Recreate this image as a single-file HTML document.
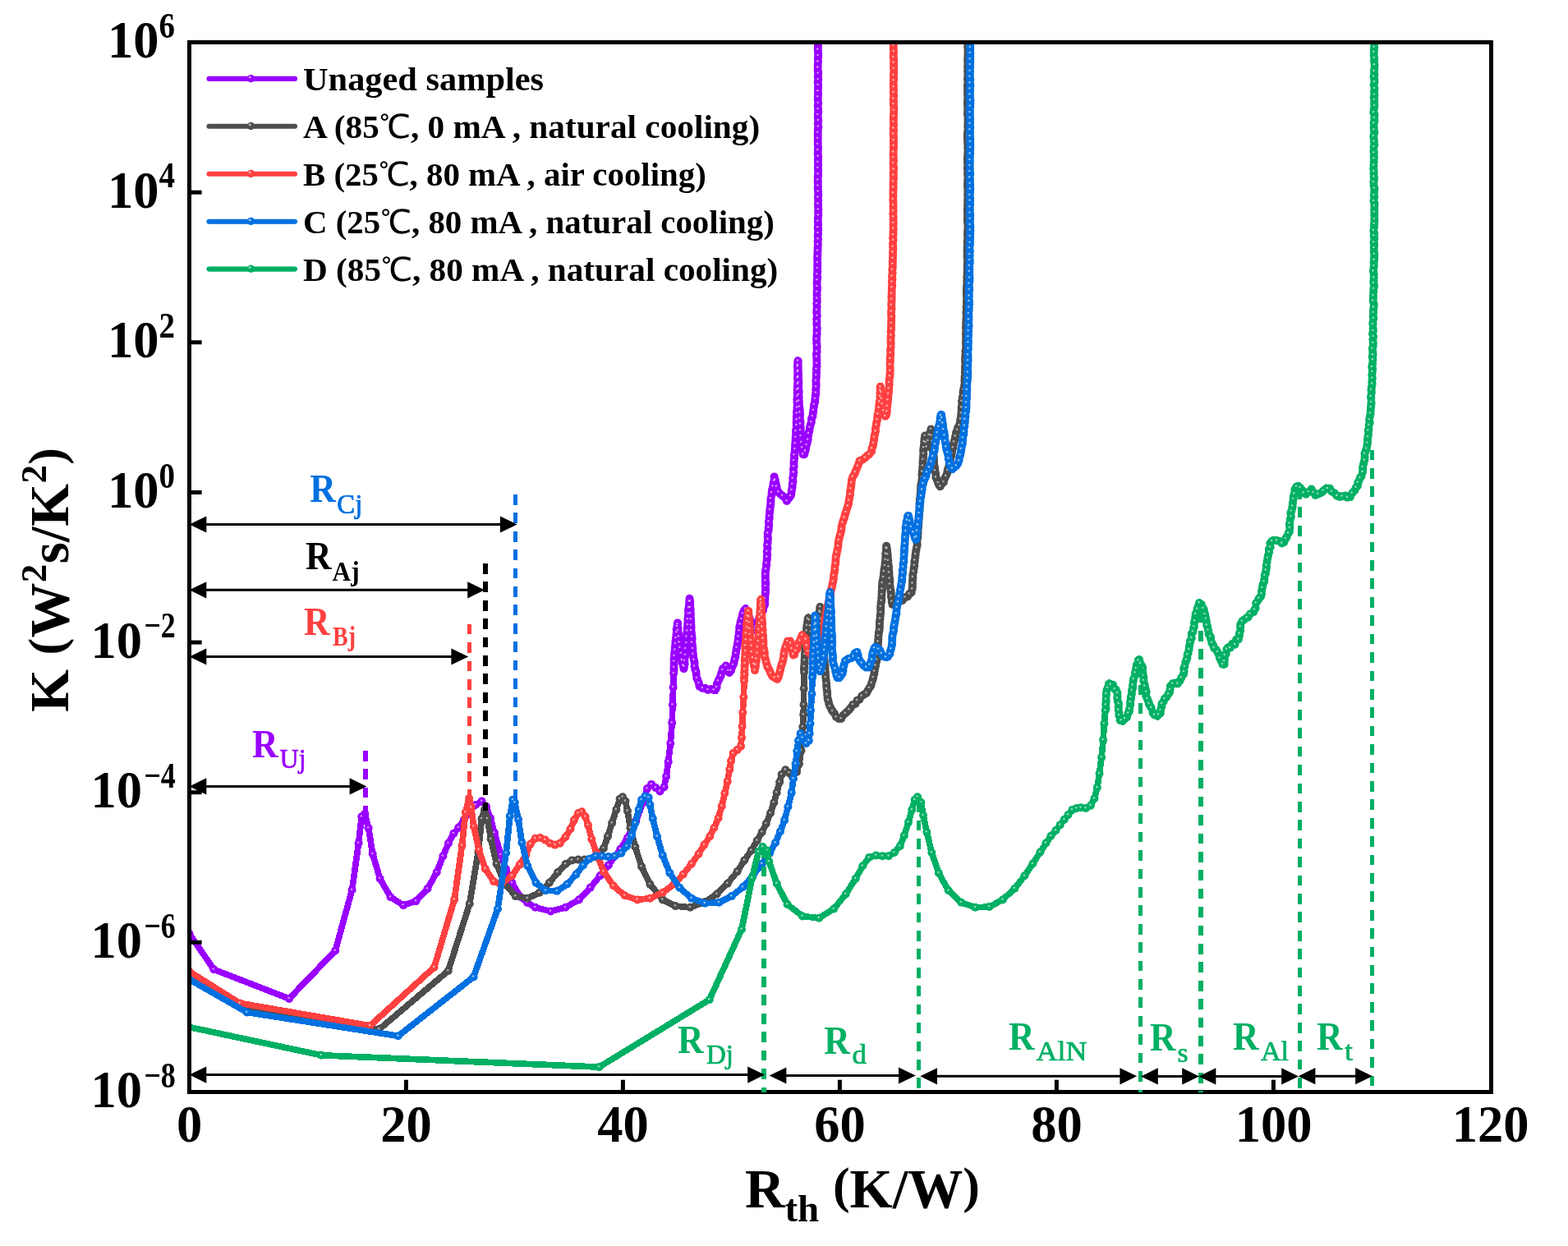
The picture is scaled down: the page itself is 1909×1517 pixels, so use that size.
<!DOCTYPE html>
<html><head><meta charset="utf-8"><title>K vs Rth</title>
<style>html,body{margin:0;padding:0;background:#fff}svg{display:block}</style></head>
<body>
<svg width="1909" height="1517" viewBox="0 0 1909 1517" font-family='"Liberation Serif","Noto Serif CJK SC",serif' font-weight="bold">
<rect width="1909" height="1517" fill="#fff"/>
<defs>
<marker id="mU" markerUnits="userSpaceOnUse" markerWidth="12" markerHeight="12" refX="6" refY="6" orient="0"><circle cx="6" cy="6" r="5.0" fill="#9900ff"/></marker>
<marker id="mA" markerUnits="userSpaceOnUse" markerWidth="12" markerHeight="12" refX="6" refY="6" orient="0"><circle cx="6" cy="6" r="5.0" fill="#4d4d4d"/></marker>
<marker id="mB" markerUnits="userSpaceOnUse" markerWidth="12" markerHeight="12" refX="6" refY="6" orient="0"><circle cx="6" cy="6" r="5.0" fill="#ff4040"/></marker>
<marker id="mC" markerUnits="userSpaceOnUse" markerWidth="12" markerHeight="12" refX="6" refY="6" orient="0"><circle cx="6" cy="6" r="5.0" fill="#0070e0"/></marker>
<marker id="mD" markerUnits="userSpaceOnUse" markerWidth="12" markerHeight="12" refX="6" refY="6" orient="0"><circle cx="6" cy="6" r="5.0" fill="#00b064"/></marker>
<marker id="hl" markerUnits="userSpaceOnUse" markerWidth="6" markerHeight="6" refX="3.5" refY="3.8" orient="0"><circle cx="3" cy="3" r="1.3" fill="#fff" fill-opacity="0.55"/></marker>
<clipPath id="plot"><rect x="230.6" y="51.5" width="1585.05" height="1278.2"/></clipPath>
</defs>
<g clip-path="url(#plot)" fill="none" stroke-linejoin="round" stroke-linecap="round" shape-rendering="crispEdges">
<polyline points="230.4,1136.6 260.3,1180.3 352.0,1215.9 408.2,1157.5 428.6,1083.5 436.6,1026.5 440.3,994.3 444.3,990.8 448.6,1008.0 453.7,1039.7 462.6,1069.7 475.5,1092.2 491.1,1102.1 506.5,1097.1 520.5,1082.0 531.7,1062.0 539.4,1042.3 545.9,1026.8 552.3,1014.8 558.3,1007.6 565.0,998.0 572.0,988.0 579.0,980.0 586.5,975.4 592.0,982.0 597.0,996.0 602.0,1014.0 609.7,1040.6 616.0,1058.0 623.4,1074.8 633.7,1092.0 642.0,1099.0 651.7,1104.8 670.5,1109.5 688.5,1104.8 704.9,1095.4 718.6,1080.8 730.6,1066.3 740.8,1053.4 755.4,1033.7 764.0,1020.0 774.3,999.4 782.8,977.1 788.0,960.0 793.1,954.9 798.3,959.1 803.4,963.4 808.6,958.3 811.1,945.4 813.7,927.4 816.3,905.1 818.2,880.0 818.9,858.0 819.6,836.9 820.2,819.8 820.5,805.0 822.0,785.0 824.8,757.8 827.5,785.5 830.0,803.0 832.7,814.5 835.4,785.5 838.0,745.9 839.6,728.8 841.3,759.1 843.3,792.1 845.9,811.9 848.6,825.1 851.9,835.6 857.8,838.2 864.4,839.6 871.0,841.5 873.6,831.7 877.6,822.4 880.2,813.2 884.2,810.6 888.1,819.8 892.1,811.9 894.7,801.3 897.4,788.1 899.3,775.0 900.7,761.8 902.6,753.8 905.3,743.3 907.9,740.0 911.0,748.0 915.0,760.0 918.0,768.0 921.0,760.0 926.0,750.0 931.0,735.4 932.3,716.9 931.6,703.7 932.3,693.2 933.6,682.6 934.9,651.4 936.9,625.1 938.9,605.3 940.9,592.1 942.9,581.5 946.2,596.0 952.7,604.0 958.0,609.2 963.3,602.6 965.3,585.5 966.6,565.7 967.3,553.8 968.6,532.7 969.9,513.0 970.6,493.2 971.3,438.2 973.0,490.0 975.0,530.0 977.0,552.0 979.1,553.8 981.5,545.0 985.5,522.0 989.5,505.0 992.0,490.0 993.5,472.0 994.3,445.0 994.4,411.9 994.7,362.4 995.2,313.0 996.0,280.0 996.0,51.5" stroke="#9900ff" stroke-width="7.7"/>
<polyline points="230.4,1136.6 260.3,1180.3 352.0,1215.9 408.2,1157.5 428.6,1083.5 436.6,1026.5 440.3,994.3 444.3,990.8 448.6,1008.0 453.7,1039.7 462.6,1069.7 475.5,1092.2 491.1,1102.1 506.5,1097.1 520.5,1082.0 531.7,1062.0 539.4,1042.3 545.9,1026.8 552.3,1014.8 558.3,1007.6 565.0,998.0 572.0,988.0 579.0,980.0 586.5,975.4 592.0,982.0 597.0,996.0 602.0,1014.0 609.7,1040.6 616.0,1058.0 623.4,1074.8 633.7,1092.0 642.0,1099.0 651.7,1104.8 670.5,1109.5 688.5,1104.8 704.9,1095.4 718.6,1080.8 730.6,1066.3 740.8,1053.4 755.4,1033.7 764.0,1020.0 774.3,999.4 782.8,977.1 788.0,960.0 793.1,954.9 798.3,959.1 803.4,963.4 808.6,958.3 811.1,945.4 813.7,927.4 816.3,905.1 818.2,880.0 818.9,858.0 819.6,836.9 820.2,819.8 820.5,815.8 820.5,812.6 820.6,808.6 820.7,805.3 820.6,802.2 821.0,798.7 821.2,794.7 821.7,791.4 821.9,787.5 822.4,783.8 822.5,780.6 823.0,776.8 823.5,772.7 823.8,770.0 823.7,766.4 824.4,762.9 825.0,758.4 824.9,760.0 825.5,764.5 825.5,767.5 825.9,771.5 826.4,775.2 826.9,778.5 826.9,782.2 827.7,785.9 827.8,788.6 828.4,792.8 829.2,795.6 829.4,800.1 830.2,803.7 830.7,806.8 831.7,810.3 832.5,814.3 832.9,811.5 833.6,808.3 833.4,804.6 833.7,800.7 834.4,797.5 834.7,793.4 834.6,789.8 835.3,786.8 835.8,782.8 836.0,779.1 835.8,775.4 836.0,771.7 836.8,768.3 836.7,765.1 837.3,760.9 837.4,758.1 837.4,754.0 837.9,750.5 838.2,747.3 838.0,743.0 838.6,739.9 839.0,736.1 839.3,732.5 839.5,728.8 840.1,731.9 840.2,735.3 840.3,739.5 840.7,742.6 840.8,746.9 840.7,749.7 841.2,754.0 841.3,757.0 841.4,761.3 841.5,764.2 841.5,767.8 842.0,771.4 842.4,775.6 842.6,778.4 842.4,782.4 843.0,786.0 843.4,789.7 843.4,792.9 843.9,796.6 844.2,800.2 844.9,803.5 845.6,807.0 845.6,811.2 846.3,814.7 847.4,817.8 847.7,821.0 848.3,825.5 849.4,828.0 850.9,831.9 851.6,835.7 855.3,837.9 858.5,837.7 861.9,839.9 865.7,839.0 869.1,840.0 871.1,839.5 872.6,836.7 872.9,832.6 874.5,829.1 875.9,826.3 877.5,822.9 878.2,819.9 879.6,815.9 880.3,813.9 883.8,810.5 885.0,812.8 886.7,816.6 887.9,819.0 890.0,816.5 891.1,812.6 892.6,809.5 893.5,807.1 894.4,802.9 895.3,799.7 895.9,795.6 896.4,791.9 897.0,788.5 897.7,785.2 898.3,781.7 899.0,778.3 899.0,775.1 899.7,771.0 900.1,768.1 900.2,763.7 901.2,760.2 901.7,757.1 902.8,753.8 903.9,749.5 904.3,747.0 905.8,743.5 907.5,741.4 908.9,743.7 910.2,746.3 911.6,750.2 912.7,753.2 913.6,756.5 914.9,759.8 916.5,763.6 917.9,765.8 919.0,766.0 920.1,763.1 921.8,759.4 923.3,755.3 924.4,752.3 926.4,749.9 927.5,746.0 928.9,743.2 929.8,739.0 931.2,735.9 931.0,732.5 931.3,728.7 931.6,724.7 932.0,721.3 932.1,718.1 931.9,713.8 932.3,710.2 931.9,707.2 931.8,703.1 931.8,699.5 931.9,696.1 932.5,693.0 933.1,688.6 933.1,685.9 933.8,681.4 933.8,678.2 934.2,675.2 933.8,671.6 934.5,667.4 934.1,663.7 934.6,660.8 934.9,656.7 934.7,653.6 934.7,649.2 935.6,645.5 935.8,642.3 936.2,639.0 935.9,635.2 936.6,631.3 936.6,628.5 937.1,623.9 937.4,620.7 937.7,617.6 938.3,613.6 938.4,610.2 938.5,607.0 939.5,602.7 939.6,599.9 940.1,596.3 941.1,592.1 941.6,588.8 942.4,585.6 942.6,580.4 943.7,584.4 944.6,588.8 945.4,592.4 946.1,596.1 947.8,599.2 950.0,601.5 952.6,603.6 955.4,605.7 957.9,610.0 960.3,606.7 962.6,603.8 963.4,600.9 963.9,596.7 964.6,593.1 964.7,589.6 965.4,586.2 965.2,582.6 965.8,579.1 966.3,575.2 966.0,571.6 966.6,568.0 966.5,564.5 966.6,560.9 967.2,557.4 967.0,554.1 967.6,550.6 967.9,546.8 968.1,543.5 968.2,540.0 968.6,536.0 968.7,532.6 969.2,528.4 969.0,525.1 969.5,522.2 969.8,517.7 969.6,514.7 969.9,511.2 969.8,507.2 970.2,503.4 970.2,500.2 970.5,496.3 970.9,493.3 970.5,489.4 970.4,486.1 970.8,482.6 970.8,478.4 970.6,474.5 970.9,471.7 971.1,467.9 971.3,463.9 971.1,460.2 971.2,456.6 971.3,453.0 971.3,449.4 971.0,446.4 971.2,442.7 971.5,439.4 971.6,440.8 971.6,444.5 971.8,447.8 971.7,451.6 972.1,455.9 971.8,458.8 972.3,462.8 972.3,466.1 972.2,469.8 972.2,473.3 972.7,476.9 972.4,480.6 972.7,484.3 972.7,488.3 972.8,491.0 973.3,495.3 973.7,498.7 973.8,502.2 974.0,505.5 973.8,509.5 974.4,513.4 974.4,516.2 974.7,520.5 974.5,524.0 975.1,527.4 974.9,530.8 975.5,534.9 975.6,538.5 975.8,541.4 976.6,545.0 977.0,549.4 977.6,553.2 979.2,553.3 980.4,549.2 981.1,545.9 982.0,541.8 982.9,538.3 983.6,535.3 983.9,530.9 984.4,527.9 985.3,524.6 985.9,520.6 986.7,517.2 987.8,514.1 988.0,509.9 989.3,506.9 989.8,503.4 990.3,499.5 990.8,495.7 991.2,492.6 992.3,488.9 992.4,485.5 992.9,481.5 993.3,478.4 993.3,474.2 993.6,471.1 993.6,467.5 993.4,463.9 993.8,460.1 993.8,456.9 994.0,453.2 994.0,449.6 994.4,446.2 994.5,442.6 994.4,438.4 994.3,434.7 994.0,431.3 994.6,428.3 994.5,423.8 994.6,420.7 994.2,417.3 994.1,413.0 994.3,409.4 994.6,406.3 994.5,402.5 994.8,399.4 994.3,395.1 994.5,391.7 994.3,388.6 994.8,384.5 994.4,381.1 994.4,377.7 994.7,374.1 994.4,369.8 994.8,366.8 994.6,363.4 994.6,359.2 994.6,355.6 995.1,351.9 994.8,348.9 994.6,345.1 994.9,341.1 995.3,337.6 994.8,334.1 995.3,330.2 995.2,326.8 995.3,323.6 995.3,319.9 995.2,316.1 995.2,312.6 995.4,309.4 995.5,305.4 995.6,301.9 995.8,297.9 995.6,294.3 996.0,291.0 995.7,287.1 996.0,283.9 996.2,279.9 995.7,277.1 996.1,273.4 995.8,269.3 995.8,265.8 996.3,262.1 996.1,258.3 996.3,255.3 996.1,251.7 996.0,248.2 996.2,244.1 995.9,240.4 996.3,237.5 996.1,233.4 995.7,229.9 995.9,226.4 995.8,222.3 995.7,219.4 995.8,215.3 996.1,212.2 996.1,207.9 995.8,204.6 996.1,201.1 995.9,197.6 995.9,194.2 996.1,190.4 995.7,187.0 995.8,182.9 996.0,179.7 995.7,175.5 995.7,172.6 995.7,168.5 995.7,164.9 995.7,161.6 995.8,157.8 996.3,154.3 995.8,150.6 996.3,146.7 995.8,143.8 995.8,139.8 996.3,136.2 996.0,132.9 995.7,129.1 996.2,125.5 995.7,121.6 995.8,118.1 996.1,114.5 995.9,111.0 996.0,107.1 996.1,103.6 995.7,100.3 996.2,96.9 995.8,93.3 996.2,89.4 995.8,86.3 995.7,82.2 995.7,79.0 996.0,75.2 995.9,71.3 996.2,67.8 996.1,64.4 995.7,60.4 995.9,56.7 995.9,53.5" stroke="none" marker-start="url(#mU)" marker-mid="url(#mU)" marker-end="url(#mU)"/>
<polyline points="230.4,1136.6 260.3,1180.3 352.0,1215.9 408.2,1157.5 428.6,1083.5 436.6,1026.5 440.3,994.3 444.3,990.8 448.6,1008.0 453.7,1039.7 462.6,1069.7 475.5,1092.2 491.1,1102.1 506.5,1097.1 520.5,1082.0 531.7,1062.0 539.4,1042.3 545.9,1026.8 552.3,1014.8 558.3,1007.6 565.0,998.0 572.0,988.0 579.0,980.0 586.5,975.4 592.0,982.0 597.0,996.0 602.0,1014.0 609.7,1040.6 616.0,1058.0 623.4,1074.8 633.7,1092.0 642.0,1099.0 651.7,1104.8 670.5,1109.5 688.5,1104.8 704.9,1095.4 718.6,1080.8 730.6,1066.3 740.8,1053.4 755.4,1033.7 764.0,1020.0 774.3,999.4 782.8,977.1 788.0,960.0 793.1,954.9 798.3,959.1 803.4,963.4 808.6,958.3 811.1,945.4 813.7,927.4 816.3,905.1 818.2,880.0 818.9,858.0 819.6,836.9 820.2,819.8 820.5,812.6 820.7,805.3 821.0,798.7 821.7,791.4 822.4,783.8 823.0,776.8 823.8,770.0 824.4,762.9 824.9,760.0 825.5,767.5 826.4,775.2 826.9,782.2 827.8,788.6 829.2,795.6 830.2,803.7 831.7,810.3 832.9,811.5 833.4,804.6 834.4,797.5 834.6,789.8 835.8,782.8 835.8,775.4 836.8,768.3 837.3,760.9 837.4,754.0 838.2,747.3 838.6,739.9 839.3,732.5 840.1,731.9 840.3,739.5 840.8,746.9 841.2,754.0 841.4,761.3 841.5,767.8 842.4,775.6 842.4,782.4 843.4,789.7 843.9,796.6 844.9,803.5 845.6,811.2 847.4,817.8 848.3,825.5 850.9,831.9 855.3,837.9 861.9,839.9 869.1,840.0 872.6,836.7 874.5,829.1 877.5,822.9 879.6,815.9 883.8,810.5 886.7,816.6 890.0,816.5 892.6,809.5 894.4,802.9 895.9,795.6 897.0,788.5 898.3,781.7 899.0,775.1 900.1,768.1 901.2,760.2 902.8,753.8 904.3,747.0 907.5,741.4 910.2,746.3 912.7,753.2 914.9,759.8 917.9,765.8 920.1,763.1 923.3,755.3 926.4,749.9 928.9,743.2 931.2,735.9 931.3,728.7 932.0,721.3 931.9,713.8 931.9,707.2 931.8,699.5 932.5,693.0 933.1,685.9 933.8,678.2 933.8,671.6 934.1,663.7 934.9,656.7 934.7,649.2 935.8,642.3 935.9,635.2 936.6,628.5 937.4,620.7 938.3,613.6 938.5,607.0 939.6,599.9 941.1,592.1 942.4,585.6 943.7,584.4 945.4,592.4 947.8,599.2 952.6,603.6 957.9,610.0 962.6,603.8 963.9,596.7 964.7,589.6 965.2,582.6 966.3,575.2 966.6,568.0 966.6,560.9 967.0,554.1 967.9,546.8 968.2,540.0 968.7,532.6 969.0,525.1 969.8,517.7 969.9,511.2 970.2,503.4 970.5,496.3 970.5,489.4 970.8,482.6 970.6,474.5 971.1,467.9 971.1,460.2 971.3,453.0 971.0,446.4 971.5,439.4 971.6,444.5 971.7,451.6 971.8,458.8 972.3,466.1 972.2,473.3 972.4,480.6 972.7,488.3 973.3,495.3 973.8,502.2 973.8,509.5 974.4,516.2 974.5,524.0 974.9,530.8 975.6,538.5 976.6,545.0 977.6,553.2 980.4,549.2 982.0,541.8 983.6,535.3 984.4,527.9 985.9,520.6 987.8,514.1 989.3,506.9 990.3,499.5 991.2,492.6 992.4,485.5 993.3,478.4 993.6,471.1 993.4,463.9 993.8,456.9 994.0,449.6 994.5,442.6 994.3,434.7 994.6,428.3 994.6,420.7 994.1,413.0 994.6,406.3 994.8,399.4 994.5,391.7 994.8,384.5 994.4,377.7 994.4,369.8 994.6,363.4 994.6,355.6 994.8,348.9 994.9,341.1 994.8,334.1 995.2,326.8 995.3,319.9 995.2,312.6 995.5,305.4 995.8,297.9 996.0,291.0 996.0,283.9 995.7,277.1 995.8,269.3 996.3,262.1 996.3,255.3 996.0,248.2 995.9,240.4 996.1,233.4 995.9,226.4 995.7,219.4 996.1,212.2 995.8,204.6 995.9,197.6 996.1,190.4 995.8,182.9 995.7,175.5 995.7,168.5 995.7,161.6 996.3,154.3 996.3,146.7 995.8,139.8 996.0,132.9 996.2,125.5 995.8,118.1 995.9,111.0 996.1,103.6 996.2,96.9 996.2,89.4 995.7,82.2 996.0,75.2 996.2,67.8 995.7,60.4 995.9,53.5" stroke="none" marker-start="url(#hl)" marker-mid="url(#hl)" marker-end="url(#hl)"/>
<polyline points="230.4,1189.0 296.0,1227.0 461.7,1253.1 545.7,1182.0 571.7,1100.5 582.3,1037.1 586.5,996.8 590.0,985.7 593.4,996.8 597.7,1021.7 604.5,1051.7 614.0,1075.0 627.7,1091.1 642.3,1093.7 656.8,1086.8 668.8,1074.8 679.1,1062.0 688.5,1052.0 696.3,1047.4 704.0,1046.6 711.7,1046.6 724.6,1043.1 734.9,1032.8 740.0,1018.3 745.1,1002.0 750.3,985.7 754.6,972.8 758.0,970.3 761.4,975.4 764.0,987.4 767.4,1008.0 773.4,1031.1 781.1,1055.1 791.4,1076.6 806.8,1095.4 822.3,1103.1 840.3,1104.8 858.3,1098.0 872.8,1088.5 885.7,1075.7 897.7,1061.1 906.3,1047.4 914.8,1035.4 921.7,1023.4 927.7,1013.1 932.8,1002.8 938.0,990.0 942.3,977.1 945.7,965.1 949.1,952.3 951.7,942.9 956.3,937.2 960.8,941.1 965.0,946.0 970.0,940.0 973.0,930.0 975.5,913.7 976.0,900.0 977.3,885.0 978.2,870.0 978.5,858.0 978.7,838.2 979.1,818.5 979.8,798.7 981.1,778.9 982.4,761.8 984.4,751.2 987.0,765.0 990.0,790.0 992.0,800.0 995.0,780.0 997.0,750.0 998.3,738.0 1000.0,760.0 1002.5,790.0 1004.8,818.5 1006.2,835.6 1007.5,848.8 1010.1,859.3 1014.1,867.3 1018.0,872.5 1023.3,875.2 1028.6,869.9 1033.8,863.3 1041.8,855.4 1049.7,847.5 1054.9,843.5 1060.2,835.6 1062.9,825.1 1065.5,814.5 1068.1,798.7 1069.5,778.9 1070.8,761.8 1072.1,743.3 1073.4,724.8 1074.7,706.4 1077.4,687.9 1079.3,664.0 1081.0,680.0 1083.0,705.0 1085.0,725.0 1086.6,736.7 1092.0,735.0 1098.0,731.0 1105.0,726.2 1110.3,719.6 1111.6,699.8 1113.6,684.0 1116.3,665.0 1118.0,640.0 1120.0,610.0 1122.5,580.0 1123.5,560.0 1125.9,531.2 1128.0,545.0 1133.2,523.3 1135.5,545.0 1137.5,565.0 1139.5,580.0 1144.4,593.2 1148.0,588.0 1152.3,578.7 1157.0,560.0 1161.5,539.1 1162.9,531.2 1166.0,522.0 1169.5,512.7 1171.4,486.4 1174.6,466.6 1176.0,411.9 1177.0,362.4 1177.7,313.0 1178.1,280.0 1178.3,51.5" stroke="#4d4d4d" stroke-width="7.7"/>
<polyline points="230.4,1189.0 296.0,1227.0 461.7,1253.1 545.7,1182.0 571.7,1100.5 582.3,1037.1 586.5,996.8 590.0,985.7 593.4,996.8 597.7,1021.7 604.5,1051.7 614.0,1075.0 627.7,1091.1 642.3,1093.7 656.8,1086.8 668.8,1074.8 679.1,1062.0 688.5,1052.0 696.3,1047.4 704.0,1046.6 711.7,1046.6 724.6,1043.1 734.9,1032.8 740.0,1018.3 745.1,1002.0 750.3,985.7 754.6,972.8 758.0,970.3 761.4,975.4 764.0,987.4 767.4,1008.0 773.4,1031.1 781.1,1055.1 791.4,1076.6 806.8,1095.4 822.3,1103.1 840.3,1104.8 858.3,1098.0 872.8,1088.5 885.7,1075.7 897.7,1061.1 906.3,1047.4 914.8,1035.4 921.7,1023.4 927.7,1013.1 932.8,1002.8 938.0,990.0 942.3,977.1 945.7,965.1 949.1,952.3 951.7,942.9 956.3,937.2 960.8,941.1 965.0,946.0 970.0,940.0 973.0,930.0 975.5,913.7 976.0,900.0 977.3,885.0 978.2,870.0 978.5,858.0 978.7,838.2 979.1,818.5 978.9,814.9 979.1,811.8 979.5,807.9 979.5,804.1 979.8,800.0 979.9,796.7 980.3,793.7 980.1,789.6 980.5,786.6 980.9,782.1 981.2,779.2 981.1,774.9 981.8,772.1 982.0,768.2 982.1,764.6 982.5,761.6 983.1,757.6 983.6,753.4 984.4,752.9 985.3,755.1 985.7,758.5 986.4,762.1 987.2,765.9 987.7,769.4 988.0,773.8 988.2,776.5 989.1,780.5 989.0,783.8 989.6,787.3 990.0,791.1 990.9,795.3 991.7,798.7 992.3,797.8 992.9,794.3 993.2,791.3 993.9,787.5 994.3,784.5 995.0,780.1 995.0,776.4 995.2,773.2 995.5,769.9 995.6,765.7 996.5,762.4 996.6,759.2 996.6,755.6 996.6,751.2 997.4,748.5 997.8,744.4 998.3,740.5 998.5,739.1 998.6,742.7 999.0,745.9 999.0,749.1 999.8,753.4 999.6,756.2 999.8,760.2 1000.0,764.2 1000.5,767.2 1000.6,770.7 1001.3,774.1 1001.6,777.9 1001.7,781.4 1002.3,785.7 1002.2,788.7 1003.0,792.1 1003.2,796.3 1003.1,799.2 1003.5,802.9 1003.7,806.4 1004.4,810.6 1004.5,813.7 1004.7,817.4 1005.0,820.7 1005.3,824.9 1005.7,828.2 1006.2,832.4 1006.3,835.7 1006.6,838.9 1007.1,842.8 1007.2,845.9 1007.6,850.4 1008.4,852.7 1009.3,856.8 1010.4,860.0 1012.2,863.4 1013.6,865.9 1016.0,868.7 1018.1,873.0 1021.2,874.9 1024.1,874.9 1026.4,871.0 1029.2,868.5 1031.5,866.4 1033.9,864.1 1035.9,861.5 1038.4,857.9 1041.4,856.9 1043.6,852.7 1046.3,851.7 1049.2,847.4 1051.6,845.7 1054.9,843.9 1056.6,840.8 1058.4,837.5 1060.3,835.0 1061.1,831.7 1062.5,827.7 1063.2,824.9 1064.3,820.5 1064.6,817.3 1065.3,813.3 1066.0,810.4 1066.8,806.3 1067.6,803.3 1068.2,800.0 1068.3,796.5 1068.5,792.6 1068.8,788.5 1068.9,785.4 1069.1,781.2 1069.3,778.5 1069.5,774.3 1069.9,770.4 1070.6,767.0 1070.9,763.6 1070.9,760.1 1071.0,756.7 1071.5,753.3 1071.7,749.8 1072.2,745.9 1072.3,741.8 1072.2,738.5 1072.5,734.8 1073.2,731.5 1073.3,728.2 1073.5,724.1 1073.6,720.5 1074.0,717.0 1073.9,713.9 1074.2,709.9 1074.9,706.2 1075.5,702.8 1076.0,699.0 1076.2,695.9 1076.7,692.3 1077.4,688.8 1077.7,685.3 1078.1,681.5 1078.4,677.8 1078.3,674.3 1078.9,670.7 1079.1,667.2 1079.2,664.8 1079.8,668.1 1080.2,671.8 1080.6,675.1 1080.9,678.9 1081.3,682.5 1081.4,686.6 1082.0,690.0 1082.1,693.6 1082.5,697.2 1082.5,700.4 1083.1,704.4 1083.4,708.0 1083.3,711.3 1083.7,714.8 1084.4,718.8 1084.8,721.6 1084.9,725.9 1085.6,729.1 1085.8,732.5 1086.5,736.0 1089.4,736.2 1092.9,734.4 1096.0,731.4 1098.7,730.9 1102.0,727.3 1104.9,726.4 1107.1,723.1 1109.6,721.4 1110.6,717.0 1110.8,714.3 1111.0,710.4 1111.0,706.2 1111.4,702.7 1111.3,699.8 1112.2,695.9 1112.6,691.9 1113.3,688.6 1113.4,684.7 1113.7,682.2 1114.3,678.0 1114.6,674.9 1115.2,670.9 1115.9,667.1 1116.7,663.4 1116.4,660.3 1116.7,656.7 1117.4,653.4 1117.6,649.6 1117.6,645.7 1118.0,642.1 1118.1,638.5 1118.5,635.0 1118.6,631.4 1119.0,627.5 1119.0,623.9 1119.5,621.2 1119.8,616.9 1119.5,613.3 1119.8,609.9 1120.0,606.8 1120.6,602.4 1120.9,598.6 1121.0,595.4 1121.2,591.8 1121.7,588.8 1122.4,584.8 1122.7,581.2 1122.4,577.5 1122.7,574.4 1123.2,570.5 1123.4,567.3 1123.4,562.9 1123.8,559.5 1124.1,556.3 1124.3,552.4 1124.1,548.4 1124.5,545.1 1125.1,541.5 1125.2,537.7 1125.6,534.6 1126.1,530.5 1126.3,534.5 1127.1,538.8 1127.3,542.4 1128.1,544.3 1128.7,541.0 1129.9,536.7 1130.4,534.2 1131.2,529.8 1132.2,527.0 1133.5,522.5 1133.7,526.8 1133.9,530.4 1134.6,534.0 1134.8,537.6 1135.4,541.4 1135.7,545.3 1135.5,547.8 1136.2,551.9 1136.6,555.3 1137.0,558.9 1137.0,562.4 1137.4,566.1 1138.0,569.4 1138.4,573.0 1139.2,576.8 1139.4,581.2 1140.7,583.9 1142.2,587.9 1143.4,590.8 1144.8,592.2 1146.9,588.7 1148.9,586.9 1150.1,582.8 1151.6,579.6 1153.1,576.4 1153.6,572.7 1154.8,569.2 1155.7,565.6 1156.4,562.4 1157.0,559.1 1158.1,555.1 1158.7,552.1 1159.2,548.9 1160.3,545.1 1160.8,541.3 1161.6,538.2 1162.5,534.9 1163.2,531.2 1164.0,526.8 1165.6,523.5 1166.3,520.5 1167.9,517.8 1168.9,513.9 1169.4,510.2 1170.1,506.4 1170.4,503.2 1170.6,499.2 1170.7,496.2 1171.2,492.5 1171.0,488.5 1171.8,484.8 1172.3,482.2 1172.5,477.8 1173.1,474.4 1174.0,470.7 1174.4,467.9 1174.4,463.5 1174.5,459.8 1174.9,456.7 1174.9,453.0 1175.0,449.3 1175.1,446.2 1175.3,442.0 1175.1,438.7 1175.2,435.3 1175.5,431.9 1175.4,427.8 1176.0,424.7 1176.1,420.5 1176.0,417.3 1176.1,413.8 1176.2,410.3 1176.0,406.6 1176.3,402.9 1176.0,399.1 1176.2,395.3 1176.2,392.1 1176.4,388.2 1176.7,385.1 1176.4,380.7 1176.9,377.8 1176.6,374.2 1177.0,370.1 1177.0,367.1 1177.2,363.5 1176.9,359.7 1176.8,355.8 1176.9,352.6 1177.0,349.1 1177.4,345.3 1177.3,341.7 1177.3,337.6 1177.6,333.9 1177.6,331.0 1177.7,326.7 1177.8,323.6 1177.9,319.9 1178.0,316.7 1177.6,312.4 1177.6,309.5 1177.5,305.8 1177.6,301.6 1177.9,297.9 1177.7,294.6 1178.2,291.3 1178.0,287.3 1178.1,284.3 1178.1,280.7 1178.4,276.6 1178.3,272.8 1177.9,269.2 1177.8,265.9 1178.2,262.1 1177.9,259.1 1177.8,255.1 1178.2,251.3 1178.2,248.4 1178.1,244.0 1178.4,240.6 1178.3,237.2 1178.3,233.9 1178.4,230.2 1178.0,226.4 1178.1,223.0 1178.2,219.1 1178.5,215.2 1178.1,211.9 1178.3,208.0 1177.9,204.7 1178.3,201.4 1177.9,197.6 1177.9,193.6 1178.0,190.7 1178.4,186.7 1178.5,183.4 1178.2,179.7 1178.3,175.6 1178.1,172.2 1177.9,168.4 1177.9,164.7 1178.0,161.5 1178.5,158.1 1178.3,154.2 1178.4,150.5 1178.5,147.0 1178.5,143.9 1178.0,139.5 1178.1,136.7 1178.2,132.9 1178.2,129.0 1177.9,125.9 1178.1,121.7 1178.4,118.5 1178.0,114.9 1178.0,110.8 1178.3,107.8 1177.9,104.3 1178.5,100.2 1178.0,96.7 1178.2,93.1 1178.4,89.2 1178.2,86.2 1178.1,81.9 1178.5,78.5 1178.2,74.7 1178.3,71.3 1178.4,67.9 1178.5,64.0 1178.5,60.9 1178.1,57.0 1178.4,53.1" stroke="none" marker-start="url(#mA)" marker-mid="url(#mA)" marker-end="url(#mA)"/>
<polyline points="230.4,1189.0 296.0,1227.0 461.7,1253.1 545.7,1182.0 571.7,1100.5 582.3,1037.1 586.5,996.8 590.0,985.7 593.4,996.8 597.7,1021.7 604.5,1051.7 614.0,1075.0 627.7,1091.1 642.3,1093.7 656.8,1086.8 668.8,1074.8 679.1,1062.0 688.5,1052.0 696.3,1047.4 704.0,1046.6 711.7,1046.6 724.6,1043.1 734.9,1032.8 740.0,1018.3 745.1,1002.0 750.3,985.7 754.6,972.8 758.0,970.3 761.4,975.4 764.0,987.4 767.4,1008.0 773.4,1031.1 781.1,1055.1 791.4,1076.6 806.8,1095.4 822.3,1103.1 840.3,1104.8 858.3,1098.0 872.8,1088.5 885.7,1075.7 897.7,1061.1 906.3,1047.4 914.8,1035.4 921.7,1023.4 927.7,1013.1 932.8,1002.8 938.0,990.0 942.3,977.1 945.7,965.1 949.1,952.3 951.7,942.9 956.3,937.2 960.8,941.1 965.0,946.0 970.0,940.0 973.0,930.0 975.5,913.7 976.0,900.0 977.3,885.0 978.2,870.0 978.5,858.0 978.7,838.2 979.1,818.5 979.1,811.8 979.5,804.1 979.9,796.7 980.1,789.6 980.9,782.1 981.1,774.9 982.0,768.2 982.5,761.6 983.6,753.4 985.3,755.1 986.4,762.1 987.7,769.4 988.2,776.5 989.0,783.8 990.0,791.1 991.7,798.7 992.9,794.3 993.9,787.5 995.0,780.1 995.2,773.2 995.6,765.7 996.6,759.2 996.6,751.2 997.8,744.4 998.5,739.1 999.0,745.9 999.8,753.4 999.8,760.2 1000.5,767.2 1001.3,774.1 1001.7,781.4 1002.2,788.7 1003.2,796.3 1003.5,802.9 1004.4,810.6 1004.7,817.4 1005.3,824.9 1006.2,832.4 1006.6,838.9 1007.2,845.9 1008.4,852.7 1010.4,860.0 1013.6,865.9 1018.1,873.0 1024.1,874.9 1029.2,868.5 1033.9,864.1 1038.4,857.9 1043.6,852.7 1049.2,847.4 1054.9,843.9 1058.4,837.5 1061.1,831.7 1063.2,824.9 1064.6,817.3 1066.0,810.4 1067.6,803.3 1068.3,796.5 1068.8,788.5 1069.1,781.2 1069.5,774.3 1070.6,767.0 1070.9,760.1 1071.5,753.3 1072.2,745.9 1072.2,738.5 1073.2,731.5 1073.5,724.1 1074.0,717.0 1074.2,709.9 1075.5,702.8 1076.2,695.9 1077.4,688.8 1078.1,681.5 1078.3,674.3 1079.1,667.2 1079.8,668.1 1080.6,675.1 1081.3,682.5 1082.0,690.0 1082.5,697.2 1083.1,704.4 1083.3,711.3 1084.4,718.8 1084.9,725.9 1085.8,732.5 1089.4,736.2 1096.0,731.4 1102.0,727.3 1107.1,723.1 1110.6,717.0 1111.0,710.4 1111.4,702.7 1112.2,695.9 1113.3,688.6 1113.7,682.2 1114.6,674.9 1115.9,667.1 1116.4,660.3 1117.4,653.4 1117.6,645.7 1118.1,638.5 1118.6,631.4 1119.0,623.9 1119.8,616.9 1119.8,609.9 1120.6,602.4 1121.0,595.4 1121.7,588.8 1122.7,581.2 1122.7,574.4 1123.4,567.3 1123.8,559.5 1124.3,552.4 1124.5,545.1 1125.2,537.7 1126.1,530.5 1127.1,538.8 1128.1,544.3 1129.9,536.7 1131.2,529.8 1133.5,522.5 1133.9,530.4 1134.8,537.6 1135.7,545.3 1136.2,551.9 1137.0,558.9 1137.4,566.1 1138.4,573.0 1139.4,581.2 1142.2,587.9 1144.8,592.2 1148.9,586.9 1151.6,579.6 1153.6,572.7 1155.7,565.6 1157.0,559.1 1158.7,552.1 1160.3,545.1 1161.6,538.2 1163.2,531.2 1165.6,523.5 1167.9,517.8 1169.4,510.2 1170.4,503.2 1170.7,496.2 1171.0,488.5 1172.3,482.2 1173.1,474.4 1174.4,467.9 1174.5,459.8 1174.9,453.0 1175.1,446.2 1175.1,438.7 1175.5,431.9 1176.0,424.7 1176.0,417.3 1176.2,410.3 1176.3,402.9 1176.2,395.3 1176.4,388.2 1176.4,380.7 1176.6,374.2 1177.0,367.1 1176.9,359.7 1176.9,352.6 1177.4,345.3 1177.3,337.6 1177.6,331.0 1177.8,323.6 1178.0,316.7 1177.6,309.5 1177.6,301.6 1177.7,294.6 1178.0,287.3 1178.1,280.7 1178.3,272.8 1177.8,265.9 1177.9,259.1 1178.2,251.3 1178.1,244.0 1178.3,237.2 1178.4,230.2 1178.1,223.0 1178.5,215.2 1178.3,208.0 1178.3,201.4 1177.9,193.6 1178.4,186.7 1178.2,179.7 1178.1,172.2 1177.9,164.7 1178.5,158.1 1178.4,150.5 1178.5,143.9 1178.1,136.7 1178.2,129.0 1178.1,121.7 1178.0,114.9 1178.3,107.8 1178.5,100.2 1178.2,93.1 1178.2,86.2 1178.5,78.5 1178.3,71.3 1178.5,64.0 1178.1,57.0" stroke="none" marker-start="url(#hl)" marker-mid="url(#hl)" marker-end="url(#hl)"/>
<polyline points="230.4,1182.8 292.0,1221.4 450.5,1248.8 528.6,1177.7 553.2,1095.1 562.5,1029.4 566.8,989.1 571.1,972.0 573.7,983.1 576.8,1006.3 583.1,1034.6 590.8,1057.7 601.1,1073.1 609.7,1076.5 623.4,1066.3 632.8,1052.6 640.5,1040.6 645.7,1027.7 651.7,1020.8 657.7,1020.0 663.7,1022.6 669.7,1026.8 675.7,1028.6 681.7,1026.8 688.5,1019.0 694.5,1009.2 698.9,998.6 704.0,990.0 708.3,988.3 712.6,994.3 716.0,1004.6 720.3,1021.7 726.3,1038.8 734.9,1061.1 746.8,1078.3 760.6,1090.3 776.0,1095.4 791.4,1093.7 806.8,1086.8 820.6,1076.5 831.7,1064.6 842.0,1051.7 850.6,1039.7 857.4,1028.6 864.3,1018.3 869.4,1008.0 874.6,996.0 878.8,981.4 882.3,966.0 885.7,951.4 888.3,936.9 890.0,926.6 892.6,917.1 897.7,912.9 902.0,908.6 903.0,898.0 903.6,884.6 904.3,867.4 905.3,848.8 906.0,829.0 906.6,811.9 907.3,792.1 908.6,772.3 909.9,753.8 911.2,743.3 913.2,772.3 915.8,798.7 919.1,815.8 922.4,792.1 924.4,759.1 926.4,728.8 927.7,753.8 929.0,778.9 931.0,798.7 934.3,811.9 938.2,819.8 943.5,825.1 946.8,826.4 950.1,815.8 952.8,805.3 955.4,792.1 958.7,781.5 962.0,780.2 964.6,792.1 965.9,798.7 969.9,790.8 972.5,781.5 976.5,773.6 980.5,776.3 983.1,789.5 985.1,796.0 992.0,800.0 998.0,795.0 1002.0,785.0 1003.5,765.0 1005.0,750.0 1009.0,732.0 1012.7,716.9 1015.4,699.8 1017.4,682.0 1021.3,658.0 1025.3,638.2 1028.6,627.7 1033.2,611.9 1035.2,598.7 1037.1,582.9 1042.4,572.3 1046.4,561.8 1054.3,556.5 1060.9,549.9 1063.5,539.3 1065.5,526.2 1067.5,513.0 1069.5,499.8 1071.4,486.6 1071.9,469.5 1074.0,490.0 1076.5,505.0 1079.0,507.0 1081.8,480.0 1083.4,453.1 1084.2,428.3 1085.0,395.4 1085.9,345.9 1087.3,296.5 1087.9,200.0 1088.0,51.5" stroke="#ff4040" stroke-width="7.7"/>
<polyline points="230.4,1182.8 292.0,1221.4 450.5,1248.8 528.6,1177.7 553.2,1095.1 562.5,1029.4 566.8,989.1 571.1,972.0 573.7,983.1 576.8,1006.3 583.1,1034.6 590.8,1057.7 601.1,1073.1 609.7,1076.5 623.4,1066.3 632.8,1052.6 640.5,1040.6 645.7,1027.7 651.7,1020.8 657.7,1020.0 663.7,1022.6 669.7,1026.8 675.7,1028.6 681.7,1026.8 688.5,1019.0 694.5,1009.2 698.9,998.6 704.0,990.0 708.3,988.3 712.6,994.3 716.0,1004.6 720.3,1021.7 726.3,1038.8 734.9,1061.1 746.8,1078.3 760.6,1090.3 776.0,1095.4 791.4,1093.7 806.8,1086.8 820.6,1076.5 831.7,1064.6 842.0,1051.7 850.6,1039.7 857.4,1028.6 864.3,1018.3 869.4,1008.0 874.6,996.0 878.8,981.4 882.3,966.0 885.7,951.4 888.3,936.9 890.0,926.6 892.6,917.1 897.7,912.9 902.0,908.6 903.0,898.0 903.6,884.6 904.3,867.4 905.3,848.8 906.0,829.0 905.9,825.1 906.5,821.3 906.2,818.3 906.6,815.1 906.6,810.8 907.0,807.8 906.7,803.8 907.0,800.3 907.4,796.2 907.6,792.9 907.4,789.6 907.4,786.0 907.9,781.9 908.2,779.1 908.4,774.7 908.3,771.1 908.8,768.1 909.4,764.0 909.1,760.3 909.6,756.8 909.8,754.0 910.1,750.0 911.1,745.8 911.2,743.9 911.4,747.0 911.7,751.0 912.1,754.7 912.5,758.1 912.5,762.1 912.6,765.5 913.3,769.2 913.0,772.5 913.3,775.9 914.1,779.7 914.5,783.4 915.0,786.6 915.1,790.0 915.1,793.9 915.4,797.6 916.5,801.0 916.7,805.3 917.9,808.6 918.1,811.3 919.0,816.1 919.7,812.5 919.9,809.6 920.7,805.2 920.8,802.2 921.4,798.5 921.9,795.4 922.1,791.5 922.4,788.0 923.0,784.3 923.3,780.8 923.4,776.6 923.5,773.3 923.9,769.3 923.8,766.6 924.4,762.6 924.6,759.3 924.7,755.4 924.9,751.7 925.3,748.7 925.3,745.1 925.6,741.3 925.9,737.6 926.0,734.1 926.2,730.2 926.3,730.8 926.6,734.3 927.1,738.6 927.0,741.6 927.2,745.6 927.4,748.9 927.5,752.8 927.8,755.8 928.2,759.2 927.9,763.2 928.6,766.9 928.5,770.8 929.0,774.0 929.1,777.5 929.5,781.0 929.4,784.5 929.7,788.6 930.5,792.5 930.8,795.3 930.9,799.0 931.8,802.2 932.8,806.1 933.7,809.8 934.8,812.4 936.7,815.7 938.2,819.5 940.2,823.1 943.1,825.1 946.3,827.0 947.8,824.2 948.9,819.9 949.9,816.5 950.5,812.9 951.7,809.1 952.6,806.6 953.5,802.8 954.2,799.0 954.4,796.2 955.1,792.3 956.2,788.2 957.3,785.4 958.8,780.8 962.0,780.5 962.6,783.2 963.7,787.4 964.0,789.9 965.1,794.4 965.6,796.9 967.1,797.1 968.7,792.5 970.4,790.3 970.9,786.8 972.1,782.8 973.7,780.2 975.3,776.6 976.6,773.3 979.7,776.5 981.1,778.4 981.6,782.8 982.2,786.2 983.1,789.1 984.1,793.1 985.7,795.4 988.5,798.2 991.4,800.0 994.4,798.3 997.1,795.3 998.7,792.2 1000.4,789.0 1001.5,785.5 1002.5,782.2 1002.4,778.8 1002.4,775.0 1003.1,771.1 1003.5,767.6 1003.7,764.7 1004.0,760.9 1004.0,757.4 1004.4,753.2 1005.2,749.5 1005.9,746.6 1006.3,742.9 1007.2,739.2 1008.2,736.0 1008.9,733.1 1009.6,729.5 1010.9,725.7 1011.2,722.2 1012.0,717.9 1012.8,715.2 1013.4,711.5 1014.2,708.2 1014.8,704.8 1015.0,700.9 1015.9,697.0 1016.4,693.3 1016.4,689.9 1017.2,686.2 1017.4,682.4 1017.6,678.9 1018.3,675.4 1018.8,672.7 1019.7,669.2 1020.4,665.1 1020.6,661.8 1021.1,657.7 1021.9,654.6 1022.8,651.3 1023.8,647.7 1024.4,644.4 1024.6,640.7 1025.9,636.3 1026.8,633.4 1028.0,630.2 1028.7,626.9 1029.9,623.6 1031.1,619.5 1032.2,616.2 1033.1,613.2 1033.6,609.3 1034.3,605.6 1035.0,602.0 1035.1,598.3 1035.8,595.1 1036.2,591.4 1036.6,587.9 1036.9,584.5 1038.3,580.4 1040.0,577.8 1041.3,574.9 1042.7,571.3 1044.3,567.5 1045.7,563.7 1046.7,561.0 1050.0,559.7 1053.2,557.4 1055.6,555.0 1058.2,553.2 1061.1,549.6 1061.5,546.1 1062.8,542.8 1063.4,539.6 1064.1,535.6 1064.4,532.5 1065.0,529.0 1066.0,525.2 1065.9,521.8 1066.8,517.5 1067.2,514.3 1068.0,511.1 1068.3,507.0 1068.8,504.2 1069.6,500.0 1070.2,496.5 1070.3,493.5 1070.8,489.2 1071.6,485.5 1071.5,482.5 1071.5,478.6 1071.8,475.6 1071.5,471.7 1072.0,471.3 1072.1,474.0 1072.8,477.8 1073.4,482.1 1073.3,485.4 1073.6,489.0 1074.2,492.1 1075.3,496.4 1075.7,500.0 1076.2,502.7 1077.7,506.8 1079.2,504.8 1079.8,501.0 1079.7,497.7 1080.2,494.6 1080.7,490.3 1081.0,487.1 1081.3,483.3 1081.6,479.6 1082.0,476.6 1082.2,473.1 1082.7,468.7 1082.5,465.8 1082.7,462.3 1083.4,458.0 1083.5,455.2 1083.7,451.5 1083.7,448.0 1083.5,444.0 1083.9,440.0 1083.7,436.8 1084.0,433.6 1084.3,429.8 1084.0,426.0 1084.6,422.4 1084.6,418.3 1084.5,414.8 1084.5,411.3 1084.8,408.2 1084.6,404.0 1085.0,400.5 1085.0,397.2 1085.1,393.5 1085.2,390.1 1085.3,386.0 1085.1,382.8 1085.0,379.3 1085.5,375.4 1085.2,371.6 1085.4,368.4 1085.6,364.5 1085.5,361.4 1085.6,357.7 1085.7,354.3 1085.9,350.1 1086.2,347.3 1085.9,343.3 1086.4,339.9 1086.0,336.4 1086.6,332.4 1086.3,328.5 1086.8,325.4 1086.8,321.5 1086.7,318.5 1087.0,314.5 1087.1,310.6 1087.0,307.2 1087.4,303.4 1087.2,300.3 1087.0,296.7 1087.6,292.5 1087.1,289.7 1087.5,285.9 1087.5,282.5 1087.7,278.4 1087.5,274.8 1087.7,271.6 1087.6,267.4 1087.7,264.0 1087.3,260.2 1087.7,256.9 1087.5,252.9 1087.6,249.8 1087.5,246.0 1087.3,242.8 1087.5,238.6 1087.4,235.1 1087.5,231.4 1087.7,228.2 1087.6,224.4 1087.6,221.0 1088.0,217.3 1087.8,213.4 1087.7,210.4 1088.0,206.4 1087.9,203.2 1087.6,198.8 1088.0,195.8 1087.8,191.9 1087.6,188.8 1087.7,185.2 1087.9,181.0 1088.0,177.6 1087.8,174.0 1088.0,170.9 1088.0,166.7 1087.7,163.3 1088.1,159.3 1087.7,156.2 1088.0,152.3 1087.9,148.5 1087.8,144.9 1088.0,141.7 1088.2,138.2 1088.3,134.5 1088.3,130.7 1087.8,126.9 1088.0,123.7 1087.7,120.4 1088.3,116.6 1087.8,112.7 1088.0,109.6 1087.9,105.9 1087.7,102.4 1088.0,98.1 1088.1,95.2 1087.9,91.6 1088.3,87.9 1088.2,83.6 1088.1,80.6 1088.1,76.4 1088.3,72.8 1087.7,69.8 1087.8,66.3 1088.1,62.8 1087.7,58.7 1087.9,55.1 1087.9,51.6" stroke="none" marker-start="url(#mB)" marker-mid="url(#mB)" marker-end="url(#mB)"/>
<polyline points="230.4,1182.8 292.0,1221.4 450.5,1248.8 528.6,1177.7 553.2,1095.1 562.5,1029.4 566.8,989.1 571.1,972.0 573.7,983.1 576.8,1006.3 583.1,1034.6 590.8,1057.7 601.1,1073.1 609.7,1076.5 623.4,1066.3 632.8,1052.6 640.5,1040.6 645.7,1027.7 651.7,1020.8 657.7,1020.0 663.7,1022.6 669.7,1026.8 675.7,1028.6 681.7,1026.8 688.5,1019.0 694.5,1009.2 698.9,998.6 704.0,990.0 708.3,988.3 712.6,994.3 716.0,1004.6 720.3,1021.7 726.3,1038.8 734.9,1061.1 746.8,1078.3 760.6,1090.3 776.0,1095.4 791.4,1093.7 806.8,1086.8 820.6,1076.5 831.7,1064.6 842.0,1051.7 850.6,1039.7 857.4,1028.6 864.3,1018.3 869.4,1008.0 874.6,996.0 878.8,981.4 882.3,966.0 885.7,951.4 888.3,936.9 890.0,926.6 892.6,917.1 897.7,912.9 902.0,908.6 903.0,898.0 903.6,884.6 904.3,867.4 905.3,848.8 906.0,829.0 906.5,821.3 906.6,815.1 907.0,807.8 907.0,800.3 907.6,792.9 907.4,786.0 908.2,779.1 908.3,771.1 909.4,764.0 909.6,756.8 910.1,750.0 911.2,743.9 911.7,751.0 912.5,758.1 912.6,765.5 913.0,772.5 914.1,779.7 915.0,786.6 915.1,793.9 916.5,801.0 917.9,808.6 919.0,816.1 919.9,809.6 920.8,802.2 921.9,795.4 922.4,788.0 923.3,780.8 923.5,773.3 923.8,766.6 924.6,759.3 924.9,751.7 925.3,745.1 925.9,737.6 926.2,730.2 926.6,734.3 927.0,741.6 927.4,748.9 927.8,755.8 927.9,763.2 928.5,770.8 929.1,777.5 929.4,784.5 930.5,792.5 930.9,799.0 932.8,806.1 934.8,812.4 938.2,819.5 943.1,825.1 947.8,824.2 949.9,816.5 951.7,809.1 953.5,802.8 954.4,796.2 956.2,788.2 958.8,780.8 962.6,783.2 964.0,789.9 965.6,796.9 968.7,792.5 970.9,786.8 973.7,780.2 976.6,773.3 981.1,778.4 982.2,786.2 984.1,793.1 988.5,798.2 994.4,798.3 998.7,792.2 1001.5,785.5 1002.4,778.8 1003.1,771.1 1003.7,764.7 1004.0,757.4 1005.2,749.5 1006.3,742.9 1008.2,736.0 1009.6,729.5 1011.2,722.2 1012.8,715.2 1014.2,708.2 1015.0,700.9 1016.4,693.3 1017.2,686.2 1017.6,678.9 1018.8,672.7 1020.4,665.1 1021.1,657.7 1022.8,651.3 1024.4,644.4 1025.9,636.3 1028.0,630.2 1029.9,623.6 1032.2,616.2 1033.6,609.3 1035.0,602.0 1035.8,595.1 1036.6,587.9 1038.3,580.4 1041.3,574.9 1044.3,567.5 1046.7,561.0 1053.2,557.4 1058.2,553.2 1061.5,546.1 1063.4,539.6 1064.4,532.5 1066.0,525.2 1066.8,517.5 1068.0,511.1 1068.8,504.2 1070.2,496.5 1070.8,489.2 1071.5,482.5 1071.8,475.6 1072.0,471.3 1072.8,477.8 1073.3,485.4 1074.2,492.1 1075.7,500.0 1077.7,506.8 1079.8,501.0 1080.2,494.6 1081.0,487.1 1081.6,479.6 1082.2,473.1 1082.5,465.8 1083.4,458.0 1083.7,451.5 1083.5,444.0 1083.7,436.8 1084.3,429.8 1084.6,422.4 1084.5,414.8 1084.8,408.2 1085.0,400.5 1085.1,393.5 1085.3,386.0 1085.0,379.3 1085.2,371.6 1085.6,364.5 1085.6,357.7 1085.9,350.1 1085.9,343.3 1086.0,336.4 1086.3,328.5 1086.8,321.5 1087.0,314.5 1087.0,307.2 1087.2,300.3 1087.6,292.5 1087.5,285.9 1087.7,278.4 1087.7,271.6 1087.7,264.0 1087.7,256.9 1087.6,249.8 1087.3,242.8 1087.4,235.1 1087.7,228.2 1087.6,221.0 1087.8,213.4 1088.0,206.4 1087.6,198.8 1087.8,191.9 1087.7,185.2 1088.0,177.6 1088.0,170.9 1087.7,163.3 1087.7,156.2 1087.9,148.5 1088.0,141.7 1088.3,134.5 1087.8,126.9 1087.7,120.4 1087.8,112.7 1087.9,105.9 1088.0,98.1 1087.9,91.6 1088.2,83.6 1088.1,76.4 1087.7,69.8 1088.1,62.8 1087.9,55.1" stroke="none" marker-start="url(#hl)" marker-mid="url(#hl)" marker-end="url(#hl)"/>
<polyline points="230.4,1192.3 300.6,1232.5 484.8,1261.3 576.6,1189.4 606.0,1106.5 616.2,1038.5 620.8,993.9 624.3,973.7 626.8,977.1 631.1,997.7 635.4,1026.0 642.3,1054.3 652.5,1074.8 664.5,1084.3 678.2,1084.8 690.6,1076.5 701.4,1064.6 710.0,1053.4 717.7,1045.7 725.4,1042.3 733.1,1042.3 740.8,1043.1 748.6,1042.3 756.3,1038.8 763.1,1030.3 769.1,1017.4 773.4,1002.0 777.7,985.7 781.1,973.7 785.4,969.4 789.7,971.1 791.4,979.7 794.8,996.8 800.0,1018.3 806.8,1041.4 815.4,1062.8 827.4,1080.8 842.0,1093.7 858.3,1099.7 875.4,1098.8 890.8,1091.1 904.5,1080.0 916.5,1066.3 927.7,1051.7 937.1,1038.8 944.0,1026.0 950.0,1012.3 955.1,998.6 959.4,982.3 963.7,965.1 966.0,948.0 968.6,930.0 970.3,914.6 972.0,901.7 974.6,893.1 977.1,898.3 981.4,905.1 984.8,901.7 985.7,893.1 986.5,881.1 987.0,864.8 988.4,844.8 989.0,825.1 989.7,805.3 991.0,785.5 992.0,762.0 992.6,749.0 995.0,785.5 997.6,811.9 998.6,818.5 1002.9,798.7 1006.8,759.1 1009.5,732.7 1010.5,720.9 1012.1,752.0 1013.0,788.0 1014.1,805.3 1016.7,814.5 1019.3,825.1 1021.3,826.4 1025.9,818.5 1027.9,806.6 1031.9,801.3 1036.5,802.6 1040.4,796.0 1043.1,794.1 1045.7,802.6 1051.0,810.6 1057.6,813.2 1060.9,805.3 1062.2,794.7 1065.5,786.8 1069.5,789.5 1073.4,796.0 1078.7,801.3 1082.6,798.7 1085.3,788.1 1086.6,774.9 1088.6,763.1 1090.6,751.2 1092.5,738.0 1094.5,726.2 1096.5,715.6 1098.5,703.7 1099.1,693.2 1100.4,680.0 1101.8,658.0 1103.1,638.2 1105.6,627.0 1110.0,645.0 1115.0,658.0 1117.6,638.2 1119.8,615.0 1123.0,592.0 1127.7,577.5 1132.1,568.0 1136.5,552.3 1141.8,525.9 1146.0,503.5 1151.0,539.1 1156.3,565.5 1160.2,572.1 1166.8,562.9 1170.8,545.7 1173.4,525.9 1176.0,499.6 1177.4,474.0 1178.2,444.8 1179.0,411.9 1179.8,362.4 1180.6,313.0 1181.0,280.0 1181.1,51.5" stroke="#0070e0" stroke-width="7.7"/>
<polyline points="230.4,1192.3 300.6,1232.5 484.8,1261.3 576.6,1189.4 606.0,1106.5 616.2,1038.5 620.8,993.9 624.3,973.7 626.8,977.1 631.1,997.7 635.4,1026.0 642.3,1054.3 652.5,1074.8 664.5,1084.3 678.2,1084.8 690.6,1076.5 701.4,1064.6 710.0,1053.4 717.7,1045.7 725.4,1042.3 733.1,1042.3 740.8,1043.1 748.6,1042.3 756.3,1038.8 763.1,1030.3 769.1,1017.4 773.4,1002.0 777.7,985.7 781.1,973.7 785.4,969.4 789.7,971.1 791.4,979.7 794.8,996.8 800.0,1018.3 806.8,1041.4 815.4,1062.8 827.4,1080.8 842.0,1093.7 858.3,1099.7 875.4,1098.8 890.8,1091.1 904.5,1080.0 916.5,1066.3 927.7,1051.7 937.1,1038.8 944.0,1026.0 950.0,1012.3 955.1,998.6 959.4,982.3 963.7,965.1 966.0,948.0 968.6,930.0 970.3,914.6 972.0,901.7 974.6,893.1 977.1,898.3 981.4,905.1 984.8,901.7 985.7,893.1 986.5,881.1 987.0,864.8 988.4,844.8 989.0,825.1 989.4,821.9 989.6,817.9 989.5,813.9 989.8,811.0 989.4,807.5 989.7,803.1 989.9,799.8 990.0,796.6 990.5,792.3 990.6,789.5 990.8,785.4 991.4,782.2 991.1,778.0 991.5,775.1 991.8,770.9 991.9,767.6 992.1,763.5 992.1,760.8 992.5,756.4 992.7,753.3 992.3,749.6 992.8,751.7 993.1,756.1 993.2,759.1 993.3,762.5 993.5,766.5 994.0,770.0 994.4,774.0 994.7,777.5 994.7,780.6 994.8,784.2 995.3,787.8 995.7,791.2 996.1,794.8 996.5,798.2 996.6,801.7 997.3,805.7 997.3,809.9 997.7,813.1 998.5,816.6 998.7,817.3 1000.0,812.8 1000.6,810.4 1001.5,806.3 1002.1,802.8 1002.8,799.1 1003.4,795.8 1003.7,791.7 1003.8,788.6 1004.5,785.5 1004.8,781.9 1005.0,777.6 1005.3,774.3 1005.7,770.9 1005.7,767.2 1006.3,763.1 1006.5,760.4 1007.0,756.2 1007.4,753.0 1007.6,749.1 1008.2,745.4 1008.8,742.1 1009.2,738.6 1009.1,734.7 1009.4,731.5 1009.8,727.2 1010.0,723.6 1010.6,721.1 1010.7,725.1 1011.2,728.8 1011.0,731.7 1011.4,736.1 1011.2,739.3 1011.8,742.7 1012.0,746.0 1011.7,750.3 1012.0,753.4 1012.2,756.8 1012.1,760.5 1012.2,764.8 1012.3,767.7 1012.8,771.5 1013.0,775.1 1013.0,778.7 1013.2,782.1 1013.1,785.7 1012.9,789.8 1013.3,793.5 1013.8,797.2 1014.1,800.6 1013.8,804.4 1014.6,807.7 1015.6,810.9 1016.9,814.2 1017.3,817.7 1018.3,821.8 1019.6,825.2 1022.1,824.8 1023.9,822.4 1025.6,820.0 1026.4,816.4 1026.7,812.5 1027.6,809.4 1028.9,804.8 1031.1,803.5 1034.1,802.0 1036.8,800.9 1039.0,799.4 1040.6,795.5 1043.4,793.9 1044.6,797.6 1045.4,801.8 1047.2,805.1 1049.1,807.2 1051.5,810.4 1054.7,812.6 1058.0,812.5 1058.9,809.3 1060.4,805.9 1061.4,803.3 1061.8,799.1 1062.3,795.8 1063.2,792.8 1064.6,789.0 1066.8,788.0 1069.5,790.4 1071.4,791.9 1073.1,795.6 1075.6,799.2 1078.5,800.0 1080.9,799.6 1083.3,796.3 1083.8,793.0 1084.8,790.0 1085.8,785.8 1086.1,783.3 1086.2,778.9 1086.3,775.2 1087.0,771.7 1088.0,768.1 1088.1,764.7 1088.6,761.4 1089.3,758.1 1090.0,754.3 1090.5,750.2 1091.3,747.2 1091.4,744.0 1092.0,739.5 1092.6,736.0 1093.5,733.0 1094.3,729.8 1094.7,726.4 1095.4,722.5 1095.9,718.5 1096.7,715.1 1097.1,711.6 1098.1,707.6 1098.2,704.1 1098.5,700.8 1099.1,697.4 1098.8,694.3 1099.6,690.5 1099.5,687.0 1100.4,683.5 1100.4,679.7 1100.7,675.8 1100.8,671.9 1101.1,668.3 1101.2,665.5 1101.6,662.0 1101.8,657.7 1101.9,654.5 1102.2,650.9 1102.8,646.9 1102.5,643.1 1103.2,640.0 1103.5,636.1 1104.3,633.4 1104.9,629.0 1106.0,627.9 1107.0,631.7 1107.5,634.5 1108.2,638.5 1109.4,641.5 1110.1,645.8 1111.7,648.2 1113.1,652.3 1113.9,654.9 1115.3,657.0 1115.7,653.5 1116.3,649.3 1116.6,646.4 1116.7,642.5 1117.5,639.2 1117.8,635.2 1118.4,632.1 1118.5,628.3 1119.0,624.8 1119.5,621.0 1119.4,617.4 1119.8,614.4 1120.5,610.7 1120.7,606.6 1121.5,603.8 1122.0,599.6 1122.6,596.2 1122.7,592.9 1123.9,588.9 1124.8,585.1 1126.0,582.6 1127.5,579.5 1128.5,575.1 1130.1,572.1 1131.4,569.2 1132.5,565.6 1133.9,562.2 1134.4,559.3 1135.5,555.7 1136.5,551.6 1137.6,548.7 1138.0,545.0 1138.4,541.1 1139.2,538.2 1140.2,533.6 1141.0,531.0 1141.3,526.9 1142.2,524.1 1142.7,519.7 1143.8,516.2 1144.5,512.4 1144.7,509.0 1145.3,505.9 1146.2,505.0 1146.6,508.8 1147.1,511.6 1147.7,515.2 1148.1,518.8 1148.5,523.0 1149.5,526.3 1150.0,530.1 1150.0,533.8 1150.7,537.1 1151.3,540.3 1151.7,544.0 1152.4,547.7 1153.6,551.1 1154.3,554.1 1154.8,558.4 1155.7,561.3 1156.2,565.1 1157.7,568.7 1159.4,570.3 1161.6,569.2 1164.2,567.1 1166.0,564.7 1167.5,561.0 1168.1,557.1 1169.1,554.1 1170.0,549.9 1170.3,546.7 1170.9,543.6 1171.9,539.9 1172.0,536.1 1172.3,533.0 1173.3,528.8 1173.5,525.6 1173.6,521.2 1174.3,518.4 1174.8,514.1 1174.8,510.7 1175.4,507.2 1175.3,503.8 1176.2,500.4 1176.4,496.5 1176.5,493.3 1176.5,490.0 1177.0,485.5 1176.8,482.7 1177.0,478.9 1177.3,474.7 1177.2,471.9 1177.3,467.7 1177.7,464.3 1178.0,460.7 1178.2,457.2 1178.3,453.4 1177.9,449.8 1178.2,445.9 1178.1,443.0 1178.6,439.0 1178.5,435.5 1178.5,432.0 1178.3,428.0 1178.8,424.6 1178.7,420.8 1178.9,417.1 1178.7,414.2 1178.9,410.1 1179.0,406.8 1179.1,402.9 1179.2,399.2 1179.5,396.4 1179.2,392.4 1179.5,389.0 1179.4,385.5 1179.3,381.8 1179.7,377.9 1179.7,374.3 1180.0,370.6 1180.0,366.8 1179.5,363.1 1179.8,360.4 1179.7,356.4 1180.2,352.6 1179.8,349.3 1179.8,345.3 1180.4,342.2 1180.5,338.4 1180.3,334.5 1180.3,330.7 1180.3,327.9 1180.2,323.7 1180.7,320.0 1180.7,316.9 1180.5,312.8 1180.6,309.9 1180.9,305.7 1180.4,302.0 1180.7,298.7 1181.0,295.5 1181.0,291.5 1181.1,287.8 1181.2,284.5 1181.3,280.3 1181.3,276.8 1181.1,273.7 1180.7,270.4 1181.1,266.5 1181.2,262.3 1180.9,259.3 1180.8,255.3 1180.7,252.1 1181.1,248.6 1181.0,244.3 1181.0,241.2 1180.7,237.5 1181.0,234.1 1181.3,230.4 1181.1,227.1 1181.0,223.5 1181.0,219.6 1180.7,216.2 1181.2,211.9 1180.7,208.8 1180.8,205.5 1180.8,201.8 1180.8,197.5 1180.8,194.8 1180.8,191.1 1181.1,187.2 1181.0,183.6 1181.3,179.9 1181.3,176.5 1181.3,172.7 1181.2,168.8 1181.0,165.9 1181.0,161.6 1180.9,158.1 1181.2,155.0 1181.0,150.7 1180.9,147.4 1181.1,143.7 1180.7,140.6 1180.9,136.9 1180.8,133.1 1181.2,129.4 1181.4,125.8 1181.4,122.2 1180.9,118.8 1180.9,115.2 1181.0,111.7 1180.9,108.2 1181.4,104.3 1180.9,101.1 1181.2,96.9 1180.8,93.6 1180.8,89.9 1181.0,86.5 1180.9,82.6 1181.1,78.9 1181.2,75.3 1181.2,72.1 1181.2,68.7 1181.3,64.7 1181.2,61.0 1181.3,57.8 1181.1,53.8" stroke="none" marker-start="url(#mC)" marker-mid="url(#mC)" marker-end="url(#mC)"/>
<polyline points="230.4,1192.3 300.6,1232.5 484.8,1261.3 576.6,1189.4 606.0,1106.5 616.2,1038.5 620.8,993.9 624.3,973.7 626.8,977.1 631.1,997.7 635.4,1026.0 642.3,1054.3 652.5,1074.8 664.5,1084.3 678.2,1084.8 690.6,1076.5 701.4,1064.6 710.0,1053.4 717.7,1045.7 725.4,1042.3 733.1,1042.3 740.8,1043.1 748.6,1042.3 756.3,1038.8 763.1,1030.3 769.1,1017.4 773.4,1002.0 777.7,985.7 781.1,973.7 785.4,969.4 789.7,971.1 791.4,979.7 794.8,996.8 800.0,1018.3 806.8,1041.4 815.4,1062.8 827.4,1080.8 842.0,1093.7 858.3,1099.7 875.4,1098.8 890.8,1091.1 904.5,1080.0 916.5,1066.3 927.7,1051.7 937.1,1038.8 944.0,1026.0 950.0,1012.3 955.1,998.6 959.4,982.3 963.7,965.1 966.0,948.0 968.6,930.0 970.3,914.6 972.0,901.7 974.6,893.1 977.1,898.3 981.4,905.1 984.8,901.7 985.7,893.1 986.5,881.1 987.0,864.8 988.4,844.8 989.0,825.1 989.6,817.9 989.8,811.0 989.7,803.1 990.0,796.6 990.6,789.5 991.4,782.2 991.5,775.1 991.9,767.6 992.1,760.8 992.7,753.3 992.8,751.7 993.2,759.1 993.5,766.5 994.4,774.0 994.7,780.6 995.3,787.8 996.1,794.8 996.6,801.7 997.3,809.9 998.5,816.6 1000.0,812.8 1001.5,806.3 1002.8,799.1 1003.7,791.7 1004.5,785.5 1005.0,777.6 1005.7,770.9 1006.3,763.1 1007.0,756.2 1007.6,749.1 1008.8,742.1 1009.1,734.7 1009.8,727.2 1010.6,721.1 1011.2,728.8 1011.4,736.1 1011.8,742.7 1011.7,750.3 1012.2,756.8 1012.2,764.8 1012.8,771.5 1013.0,778.7 1013.1,785.7 1013.3,793.5 1014.1,800.6 1014.6,807.7 1016.9,814.2 1018.3,821.8 1022.1,824.8 1025.6,820.0 1026.7,812.5 1028.9,804.8 1034.1,802.0 1039.0,799.4 1043.4,793.9 1045.4,801.8 1049.1,807.2 1054.7,812.6 1058.9,809.3 1061.4,803.3 1062.3,795.8 1064.6,789.0 1069.5,790.4 1073.1,795.6 1078.5,800.0 1083.3,796.3 1084.8,790.0 1086.1,783.3 1086.3,775.2 1088.0,768.1 1088.6,761.4 1090.0,754.3 1091.3,747.2 1092.0,739.5 1093.5,733.0 1094.7,726.4 1095.9,718.5 1097.1,711.6 1098.2,704.1 1099.1,697.4 1099.6,690.5 1100.4,683.5 1100.7,675.8 1101.1,668.3 1101.6,662.0 1101.9,654.5 1102.8,646.9 1103.2,640.0 1104.3,633.4 1106.0,627.9 1107.5,634.5 1109.4,641.5 1111.7,648.2 1113.9,654.9 1115.7,653.5 1116.6,646.4 1117.5,639.2 1118.4,632.1 1119.0,624.8 1119.4,617.4 1120.5,610.7 1121.5,603.8 1122.6,596.2 1123.9,588.9 1126.0,582.6 1128.5,575.1 1131.4,569.2 1133.9,562.2 1135.5,555.7 1137.6,548.7 1138.4,541.1 1140.2,533.6 1141.3,526.9 1142.7,519.7 1144.5,512.4 1145.3,505.9 1146.6,508.8 1147.7,515.2 1148.5,523.0 1150.0,530.1 1150.7,537.1 1151.7,544.0 1153.6,551.1 1154.8,558.4 1156.2,565.1 1159.4,570.3 1164.2,567.1 1167.5,561.0 1169.1,554.1 1170.3,546.7 1171.9,539.9 1172.3,533.0 1173.5,525.6 1174.3,518.4 1174.8,510.7 1175.3,503.8 1176.4,496.5 1176.5,490.0 1176.8,482.7 1177.3,474.7 1177.3,467.7 1178.0,460.7 1178.3,453.4 1178.2,445.9 1178.6,439.0 1178.5,432.0 1178.8,424.6 1178.9,417.1 1178.9,410.1 1179.1,402.9 1179.5,396.4 1179.5,389.0 1179.3,381.8 1179.7,374.3 1180.0,366.8 1179.8,360.4 1180.2,352.6 1179.8,345.3 1180.5,338.4 1180.3,330.7 1180.2,323.7 1180.7,316.9 1180.6,309.9 1180.4,302.0 1181.0,295.5 1181.1,287.8 1181.3,280.3 1181.1,273.7 1181.1,266.5 1180.9,259.3 1180.7,252.1 1181.0,244.3 1180.7,237.5 1181.3,230.4 1181.0,223.5 1180.7,216.2 1180.7,208.8 1180.8,201.8 1180.8,194.8 1181.1,187.2 1181.3,179.9 1181.3,172.7 1181.0,165.9 1180.9,158.1 1181.0,150.7 1181.1,143.7 1180.9,136.9 1181.2,129.4 1181.4,122.2 1180.9,115.2 1180.9,108.2 1180.9,101.1 1180.8,93.6 1181.0,86.5 1181.1,78.9 1181.2,72.1 1181.3,64.7 1181.3,57.8" stroke="none" marker-start="url(#hl)" marker-mid="url(#hl)" marker-end="url(#hl)"/>
<polyline points="230.4,1250.5 391.4,1284.8 729.5,1299.1 863.7,1217.1 903.0,1131.4 915.7,1068.8 923.4,1037.1 928.5,1031.1 933.7,1035.4 936.3,1049.1 945.7,1075.7 958.6,1101.0 977.0,1115.5 997.2,1117.7 1015.2,1106.5 1029.8,1088.5 1041.7,1069.7 1050.3,1054.3 1058.0,1044.0 1066.6,1041.4 1074.3,1042.3 1082.0,1042.3 1088.8,1038.0 1095.7,1030.3 1100.8,1017.4 1106.0,1001.1 1110.3,985.7 1113.7,973.7 1117.1,970.3 1121.4,977.1 1124.0,992.6 1128.3,1013.1 1134.3,1038.0 1142.8,1062.8 1154.8,1084.3 1170.3,1098.8 1187.4,1104.8 1204.5,1104.0 1220.8,1095.4 1235.4,1081.7 1247.4,1066.3 1257.4,1051.5 1266.4,1037.5 1273.5,1026.4 1279.5,1017.8 1285.4,1011.0 1290.6,1004.4 1295.8,997.8 1300.5,992.0 1305.5,985.9 1310.8,984.0 1316.0,983.3 1322.0,984.0 1327.9,980.7 1332.5,972.1 1335.8,958.9 1338.5,941.8 1341.1,922.0 1343.1,900.9 1344.4,881.1 1345.7,865.3 1346.8,847.4 1348.6,835.4 1351.1,831.1 1355.4,835.4 1359.7,842.3 1361.4,854.3 1362.3,868.0 1364.0,878.3 1367.4,879.1 1372.6,871.4 1376.0,861.1 1376.8,847.4 1379.4,832.0 1382.8,816.6 1385.4,804.6 1387.1,803.7 1389.7,809.7 1392.3,823.4 1394.0,837.1 1396.6,850.8 1400.8,861.1 1406.0,869.7 1409.4,873.1 1412.8,868.0 1414.6,856.0 1419.7,850.8 1423.1,844.0 1424.8,835.4 1430.8,832.0 1436.8,828.6 1440.3,822.6 1442.0,813.1 1444.6,802.8 1447.1,792.6 1448.8,782.3 1451.4,772.0 1454.0,758.3 1456.5,746.3 1459.1,736.0 1461.3,734.3 1464.3,739.4 1467.7,749.7 1469.4,763.4 1473.7,775.4 1478.0,787.4 1483.1,796.0 1487.4,806.3 1490.0,809.7 1491.7,797.7 1494.3,787.4 1501.1,785.7 1507.1,778.8 1509.7,768.6 1510.5,758.3 1516.5,753.1 1521.7,748.0 1526.8,744.6 1529.4,736.0 1533.7,728.0 1536.3,720.6 1538.0,712.0 1540.0,702.3 1541.7,688.5 1544.3,674.8 1546.8,662.8 1550.3,656.8 1555.4,658.6 1561.4,662.0 1566.6,655.1 1570.0,645.7 1570.8,633.7 1572.6,620.0 1574.3,606.3 1576.8,596.0 1581.1,590.8 1586.3,596.8 1591.4,601.1 1596.6,596.8 1602.6,601.1 1608.6,601.1 1614.6,593.4 1620.6,596.8 1627.4,602.0 1634.3,604.6 1639.4,606.3 1645.4,602.0 1651.4,594.3 1654.8,585.7 1658.3,575.4 1660.0,563.4 1662.6,551.4 1664.3,539.4 1666.0,525.7 1667.5,510.0 1669.0,490.0 1670.5,460.0 1671.4,417.0 1672.4,366.0 1672.8,280.0 1673.0,51.5" stroke="#00b064" stroke-width="7.7"/>
<polyline points="230.4,1250.5 391.4,1284.8 729.5,1299.1 863.7,1217.1 903.0,1131.4 915.7,1068.8 923.4,1037.1 928.5,1031.1 933.7,1035.4 936.3,1049.1 945.7,1075.7 958.6,1101.0 977.0,1115.5 997.2,1117.7 1015.2,1106.5 1029.8,1088.5 1041.7,1069.7 1050.3,1054.3 1058.0,1044.0 1066.6,1041.4 1074.3,1042.3 1082.0,1042.3 1088.8,1038.0 1095.7,1030.3 1100.8,1017.4 1106.0,1001.1 1110.3,985.7 1113.7,973.7 1117.1,970.3 1121.4,977.1 1124.0,992.6 1128.3,1013.1 1134.3,1038.0 1142.8,1062.8 1154.8,1084.3 1170.3,1098.8 1187.4,1104.8 1204.5,1104.0 1220.8,1095.4 1235.4,1081.7 1247.4,1066.3 1257.4,1051.5 1266.4,1037.5 1273.5,1026.4 1279.5,1017.8 1285.4,1011.0 1290.6,1004.4 1295.8,997.8 1300.5,992.0 1305.5,985.9 1310.8,984.0 1316.0,983.3 1322.0,984.0 1327.9,980.7 1332.5,972.1 1335.8,958.9 1338.5,941.8 1341.1,922.0 1343.1,900.9 1344.4,881.1 1345.7,865.3 1346.5,862.5 1346.2,858.1 1346.6,855.0 1346.6,851.5 1346.8,846.6 1346.8,844.7 1347.5,840.6 1348.6,837.5 1349.9,832.7 1352.1,833.4 1355.0,833.7 1357.1,838.9 1358.6,839.5 1360.4,843.9 1360.5,847.7 1360.3,850.0 1360.8,853.8 1362.0,856.7 1361.7,860.5 1361.7,864.2 1362.5,868.6 1362.4,870.9 1363.6,876.7 1365.1,877.0 1367.5,876.9 1369.5,874.9 1372.0,873.1 1373.6,868.3 1374.9,865.8 1375.0,863.2 1376.1,858.1 1376.1,854.9 1376.8,851.1 1376.8,848.9 1377.8,845.0 1378.1,840.6 1379.0,837.6 1379.0,834.2 1379.6,829.7 1380.0,826.7 1381.8,822.7 1382.0,819.1 1383.0,815.2 1383.2,813.8 1383.8,809.9 1385.7,804.0 1387.0,803.1 1388.5,807.7 1390.6,811.3 1391.2,813.8 1391.4,819.1 1391.6,822.5 1392.4,824.8 1392.3,828.5 1393.5,833.0 1393.6,835.4 1394.6,838.5 1395.6,842.5 1395.2,847.5 1396.8,850.7 1398.3,854.2 1398.8,856.9 1400.1,859.2 1401.6,861.7 1403.6,867.9 1405.5,870.4 1408.0,870.7 1410.5,870.1 1412.7,868.5 1412.9,864.6 1414.2,860.4 1414.5,856.7 1416.5,854.4 1417.8,850.8 1420.2,848.8 1422.4,845.0 1423.9,843.0 1424.5,839.5 1424.9,835.4 1427.5,832.3 1431.4,831.5 1433.8,832.4 1436.6,828.6 1438.3,825.0 1440.9,821.0 1441.6,817.8 1441.2,813.9 1442.3,811.5 1443.3,806.6 1444.4,803.6 1445.4,800.9 1445.6,797.1 1446.6,795.0 1447.6,790.7 1447.9,787.0 1449.0,782.3 1449.1,780.3 1450.8,776.7 1450.7,771.5 1452.5,769.0 1453.1,764.7 1453.8,763.0 1454.0,758.4 1454.5,756.0 1455.3,751.7 1455.6,747.7 1457.2,744.5 1457.6,741.4 1458.8,738.3 1460.0,734.0 1462.7,735.9 1464.9,740.8 1465.8,742.6 1467.0,747.9 1467.3,749.8 1468.2,753.3 1468.9,757.0 1469.2,761.1 1470.2,763.1 1470.9,767.3 1471.6,771.9 1473.7,775.0 1474.1,777.7 1475.3,782.6 1477.1,785.6 1478.0,788.7 1480.5,790.9 1482.4,793.8 1483.6,796.4 1484.9,801.1 1486.9,805.0 1488.4,808.8 1490.6,808.8 1490.6,805.1 1490.9,802.1 1491.2,797.6 1492.7,796.1 1493.5,790.4 1494.7,789.4 1497.7,788.7 1500.3,783.7 1503.5,784.8 1505.1,778.7 1507.8,778.4 1508.8,774.2 1508.9,771.3 1510.1,767.7 1510.2,762.9 1510.3,760.0 1512.3,756.3 1514.6,754.5 1518.0,752.0 1519.6,751.4 1522.1,747.4 1526.2,745.1 1527.4,742.3 1528.6,740.3 1529.2,734.3 1531.8,730.8 1532.9,728.4 1535.0,726.2 1536.0,723.0 1536.1,719.2 1536.8,715.6 1537.5,711.8 1539.1,708.1 1539.3,705.4 1539.7,700.6 1540.8,698.1 1541.3,694.2 1541.9,691.3 1541.8,688.3 1542.6,684.0 1543.3,679.5 1543.9,676.6 1545.1,672.3 1544.9,668.9 1546.6,666.3 1546.3,661.6 1548.6,658.9 1550.5,657.7 1554.4,658.1 1557.3,658.7 1560.6,661.4 1563.4,660.1 1565.3,655.8 1566.6,653.8 1568.5,649.2 1569.8,647.5 1570.3,642.7 1570.1,639.5 1570.0,637.3 1570.8,632.2 1571.8,628.9 1571.3,625.1 1572.2,622.3 1573.4,618.6 1573.6,616.2 1573.9,612.3 1574.6,607.5 1574.8,604.4 1575.8,601.2 1576.4,596.1 1578.4,592.6 1580.5,592.0 1582.9,593.7 1585.0,597.4 1587.1,600.1 1590.0,601.7 1593.2,598.9 1596.6,595.5 1599.1,599.5 1601.5,603.0 1604.7,601.6 1609.3,599.2 1611.1,597.6 1613.5,595.5 1616.3,594.8 1619.2,594.7 1621.4,598.5 1624.8,600.4 1627.8,603.7 1631.2,604.9 1634.2,604.3 1638.1,603.5 1640.4,605.7 1643.9,605.1 1646.2,600.4 1649.1,597.4 1650.9,593.6 1652.9,591.5 1653.3,587.6 1654.4,585.5 1655.8,581.9 1657.5,579.6 1659.0,574.7 1659.2,571.1 1659.1,568.8 1660.1,564.6 1661.3,560.3 1661.6,556.9 1661.5,552.4 1662.7,549.1 1663.7,546.4 1664.4,542.6 1664.9,539.3 1664.9,535.5 1665.4,532.0 1666.1,528.8 1665.8,524.3 1666.4,522.4 1666.6,517.6 1667.7,514.7 1667.1,511.1 1667.8,507.4 1668.5,503.2 1668.7,499.8 1669.0,495.9 1669.4,492.2 1669.5,489.9 1669.3,484.8 1669.1,482.7 1669.8,477.9 1669.5,474.5 1669.9,471.4 1670.6,467.4 1670.3,464.9 1670.8,460.4 1670.3,456.8 1670.8,452.7 1671.1,448.7 1670.2,446.9 1671.0,442.9 1671.4,438.0 1670.7,434.2 1671.6,432.0 1671.3,428.7 1670.8,424.5 1671.7,421.3 1671.8,417.5 1671.4,413.8 1672.1,409.8 1671.0,406.4 1671.8,402.9 1671.6,399.7 1671.4,394.8 1671.5,392.3 1672.3,387.8 1671.7,385.0 1672.1,380.6 1672.0,378.1 1672.4,374.2 1672.8,370.8 1671.7,366.4 1671.8,363.1 1671.9,359.9 1672.2,355.1 1672.4,351.5 1673.1,348.0 1672.4,344.5 1672.4,341.7 1672.7,338.1 1672.6,333.9 1672.0,330.2 1672.3,326.7 1672.8,323.8 1672.6,319.4 1673.0,316.7 1673.1,313.5 1673.2,309.6 1672.8,306.2 1672.8,301.8 1673.1,298.0 1672.6,295.1 1673.3,290.4 1672.7,287.0 1673.1,284.1 1672.3,280.7 1672.9,276.4 1673.1,272.5 1673.4,269.6 1673.3,266.8 1673.3,262.2 1673.3,258.3 1673.3,254.6 1673.4,250.8 1673.5,247.5 1672.5,244.8 1673.4,240.1 1672.8,237.9 1673.2,233.0 1673.4,229.3 1672.6,226.1 1672.4,222.0 1673.0,218.3 1672.8,215.2 1672.5,211.2 1672.7,208.7 1672.2,205.2 1672.5,201.3 1672.7,197.2 1672.8,193.1 1672.7,190.1 1672.8,186.0 1672.4,184.0 1672.6,178.8 1673.2,176.6 1672.9,172.3 1672.6,169.0 1672.3,165.7 1673.3,161.9 1672.8,158.0 1672.7,154.2 1672.6,150.1 1673.4,147.4 1673.2,143.6 1673.5,139.4 1672.3,136.9 1672.9,132.6 1673.4,128.7 1673.1,125.6 1673.2,121.5 1672.7,118.4 1673.4,115.6 1673.0,111.9 1673.5,107.8 1672.6,103.5 1673.5,99.8 1673.2,96.4 1672.5,93.3 1673.4,90.4 1672.9,86.7 1673.4,83.2 1673.5,79.1 1673.0,74.5 1673.2,70.7 1672.7,67.1 1672.7,63.5 1672.9,60.8 1673.1,57.6 1673.0,53.4" stroke="none" marker-start="url(#mD)" marker-mid="url(#mD)" marker-end="url(#mD)"/>
<polyline points="230.4,1250.5 391.4,1284.8 729.5,1299.1 863.7,1217.1 903.0,1131.4 915.7,1068.8 923.4,1037.1 928.5,1031.1 933.7,1035.4 936.3,1049.1 945.7,1075.7 958.6,1101.0 977.0,1115.5 997.2,1117.7 1015.2,1106.5 1029.8,1088.5 1041.7,1069.7 1050.3,1054.3 1058.0,1044.0 1066.6,1041.4 1074.3,1042.3 1082.0,1042.3 1088.8,1038.0 1095.7,1030.3 1100.8,1017.4 1106.0,1001.1 1110.3,985.7 1113.7,973.7 1117.1,970.3 1121.4,977.1 1124.0,992.6 1128.3,1013.1 1134.3,1038.0 1142.8,1062.8 1154.8,1084.3 1170.3,1098.8 1187.4,1104.8 1204.5,1104.0 1220.8,1095.4 1235.4,1081.7 1247.4,1066.3 1257.4,1051.5 1266.4,1037.5 1273.5,1026.4 1279.5,1017.8 1285.4,1011.0 1290.6,1004.4 1295.8,997.8 1300.5,992.0 1305.5,985.9 1310.8,984.0 1316.0,983.3 1322.0,984.0 1327.9,980.7 1332.5,972.1 1335.8,958.9 1338.5,941.8 1341.1,922.0 1343.1,900.9 1344.4,881.1 1345.7,865.3 1346.2,858.1 1346.6,851.5 1346.8,844.7 1348.6,837.5 1352.1,833.4 1357.1,838.9 1360.4,843.9 1360.3,850.0 1362.0,856.7 1361.7,864.2 1362.4,870.9 1365.1,877.0 1369.5,874.9 1373.6,868.3 1375.0,863.2 1376.1,854.9 1376.8,848.9 1378.1,840.6 1379.0,834.2 1380.0,826.7 1382.0,819.1 1383.2,813.8 1385.7,804.0 1388.5,807.7 1391.2,813.8 1391.6,822.5 1392.3,828.5 1393.6,835.4 1395.6,842.5 1396.8,850.7 1398.8,856.9 1401.6,861.7 1405.5,870.4 1410.5,870.1 1412.9,864.6 1414.5,856.7 1417.8,850.8 1422.4,845.0 1424.5,839.5 1427.5,832.3 1433.8,832.4 1438.3,825.0 1441.6,817.8 1442.3,811.5 1444.4,803.6 1445.6,797.1 1447.6,790.7 1449.0,782.3 1450.8,776.7 1452.5,769.0 1453.8,763.0 1454.5,756.0 1455.6,747.7 1457.6,741.4 1460.0,734.0 1464.9,740.8 1467.0,747.9 1468.2,753.3 1469.2,761.1 1470.9,767.3 1473.7,775.0 1475.3,782.6 1478.0,788.7 1482.4,793.8 1484.9,801.1 1488.4,808.8 1490.6,805.1 1491.2,797.6 1493.5,790.4 1497.7,788.7 1503.5,784.8 1507.8,778.4 1508.9,771.3 1510.2,762.9 1512.3,756.3 1518.0,752.0 1522.1,747.4 1527.4,742.3 1529.2,734.3 1532.9,728.4 1536.0,723.0 1536.8,715.6 1539.1,708.1 1539.7,700.6 1541.3,694.2 1541.8,688.3 1543.3,679.5 1545.1,672.3 1546.6,666.3 1548.6,658.9 1554.4,658.1 1560.6,661.4 1565.3,655.8 1568.5,649.2 1570.3,642.7 1570.0,637.3 1571.8,628.9 1572.2,622.3 1573.6,616.2 1574.6,607.5 1575.8,601.2 1578.4,592.6 1582.9,593.7 1587.1,600.1 1593.2,598.9 1599.1,599.5 1604.7,601.6 1611.1,597.6 1616.3,594.8 1621.4,598.5 1627.8,603.7 1634.2,604.3 1640.4,605.7 1646.2,600.4 1650.9,593.6 1653.3,587.6 1655.8,581.9 1659.0,574.7 1659.1,568.8 1661.3,560.3 1661.5,552.4 1663.7,546.4 1664.9,539.3 1665.4,532.0 1665.8,524.3 1666.6,517.6 1667.1,511.1 1668.5,503.2 1669.0,495.9 1669.5,489.9 1669.1,482.7 1669.5,474.5 1670.6,467.4 1670.8,460.4 1670.8,452.7 1670.2,446.9 1671.4,438.0 1671.6,432.0 1670.8,424.5 1671.8,417.5 1672.1,409.8 1671.8,402.9 1671.4,394.8 1672.3,387.8 1672.1,380.6 1672.4,374.2 1671.7,366.4 1671.9,359.9 1672.4,351.5 1672.4,344.5 1672.7,338.1 1672.0,330.2 1672.8,323.8 1673.0,316.7 1673.2,309.6 1672.8,301.8 1672.6,295.1 1672.7,287.0 1672.3,280.7 1673.1,272.5 1673.3,266.8 1673.3,258.3 1673.4,250.8 1672.5,244.8 1672.8,237.9 1673.4,229.3 1672.4,222.0 1672.8,215.2 1672.7,208.7 1672.5,201.3 1672.8,193.1 1672.8,186.0 1672.6,178.8 1672.9,172.3 1672.3,165.7 1672.8,158.0 1672.6,150.1 1673.2,143.6 1672.3,136.9 1673.4,128.7 1673.2,121.5 1673.4,115.6 1673.5,107.8 1673.5,99.8 1672.5,93.3 1672.9,86.7 1673.5,79.1 1673.2,70.7 1672.7,63.5 1673.1,57.6" stroke="none" marker-start="url(#hl)" marker-mid="url(#hl)" marker-end="url(#hl)"/>
</g>
<rect x="230.6" y="51.5" width="1585.0500000000002" height="1278.2" fill="none" stroke="#000" stroke-width="5" shape-rendering="crispEdges"/>
<line x1="230.6" y1="234.2" x2="245.6" y2="234.2" stroke="#000" stroke-width="5"/>
<line x1="230.6" y1="416.8" x2="245.6" y2="416.8" stroke="#000" stroke-width="5"/>
<line x1="230.6" y1="599.5" x2="245.6" y2="599.5" stroke="#000" stroke-width="5"/>
<line x1="230.6" y1="782.1" x2="245.6" y2="782.1" stroke="#000" stroke-width="5"/>
<line x1="230.6" y1="964.7" x2="245.6" y2="964.7" stroke="#000" stroke-width="5"/>
<line x1="230.6" y1="1147.3" x2="245.6" y2="1147.3" stroke="#000" stroke-width="5"/>
<line x1="494.4" y1="1329.7" x2="494.4" y2="1314.7" stroke="#000" stroke-width="5"/>
<line x1="758.4" y1="1329.7" x2="758.4" y2="1314.7" stroke="#000" stroke-width="5"/>
<line x1="1022.4" y1="1329.7" x2="1022.4" y2="1314.7" stroke="#000" stroke-width="5"/>
<line x1="1286.4" y1="1329.7" x2="1286.4" y2="1314.7" stroke="#000" stroke-width="5"/>
<line x1="1550.4" y1="1329.7" x2="1550.4" y2="1314.7" stroke="#000" stroke-width="5"/>
<line x1="445.1" y1="913.9" x2="445.1" y2="992.0" stroke="#9900ff" stroke-width="5.8" stroke-dasharray="12.7 9.71" stroke-dashoffset="0.00" shape-rendering="crispEdges"/>
<line x1="571.5" y1="759.7" x2="571.5" y2="975.0" stroke="#ff4040" stroke-width="5.0" stroke-dasharray="12.7 9.71" stroke-dashoffset="0.00" shape-rendering="crispEdges"/>
<line x1="591.1" y1="686.0" x2="591.1" y2="987.0" stroke="#000" stroke-width="5.8" stroke-dasharray="12.7 9.71" stroke-dashoffset="0.00" shape-rendering="crispEdges"/>
<line x1="627.4" y1="602.0" x2="627.4" y2="976.0" stroke="#0070e0" stroke-width="5.0" stroke-dasharray="12.7 9.71" stroke-dashoffset="0.00" shape-rendering="crispEdges"/>
<line x1="930.0" y1="1032.2" x2="930.0" y2="1330.0" stroke="#00b064" stroke-width="5.8" stroke-dasharray="12.7 9.71" stroke-dashoffset="0.00" shape-rendering="crispEdges"/>
<line x1="1118.5" y1="976.2" x2="1118.5" y2="1326.0" stroke="#00b064" stroke-width="5.0" stroke-dasharray="12.7 9.71" stroke-dashoffset="0.00" shape-rendering="crispEdges"/>
<line x1="1388.5" y1="811.1" x2="1388.5" y2="1330.0" stroke="#00b064" stroke-width="5.0" stroke-dasharray="12.7 9.71" stroke-dashoffset="0.00" shape-rendering="crispEdges"/>
<line x1="1462.0" y1="745.6" x2="1462.0" y2="1330.0" stroke="#00b064" stroke-width="6.1" stroke-dasharray="12.7 9.71" stroke-dashoffset="0.00" shape-rendering="crispEdges"/>
<line x1="1582.4" y1="595.0" x2="1582.4" y2="1325.0" stroke="#00b064" stroke-width="5.0" stroke-dasharray="12.7 9.71" stroke-dashoffset="0.00" shape-rendering="crispEdges"/>
<line x1="1670.6" y1="547.6" x2="1670.6" y2="1321.8" stroke="#00b064" stroke-width="5.0" stroke-dasharray="12.7 9.71" stroke-dashoffset="0.00" shape-rendering="crispEdges"/>
<line x1="249.3" y1="638.5" x2="610.9" y2="638.5" stroke="#000" stroke-width="3.0"/>
<path d="M230.5 638.5L251.3 628.4V648.6Z" fill="#000"/>
<path d="M629.7 638.5L608.9 628.4V648.6Z" fill="#000"/>
<line x1="249.3" y1="718.3" x2="571.2" y2="718.3" stroke="#000" stroke-width="3.0"/>
<path d="M230.5 718.3L251.3 708.1999999999999V728.4Z" fill="#000"/>
<path d="M590.0 718.3L569.2 708.1999999999999V728.4Z" fill="#000"/>
<line x1="249.3" y1="799.5" x2="551.4" y2="799.5" stroke="#000" stroke-width="3.0"/>
<path d="M230.5 799.5L251.3 789.4V809.6Z" fill="#000"/>
<path d="M570.2 799.5L549.4 789.4V809.6Z" fill="#000"/>
<line x1="249.3" y1="957.4" x2="427.6" y2="957.4" stroke="#000" stroke-width="3.0"/>
<path d="M230.5 957.4L251.3 947.3V967.5Z" fill="#000"/>
<path d="M446.4 957.4L425.6 947.3V967.5Z" fill="#000"/>
<line x1="249.3" y1="1308.6" x2="912.2" y2="1308.6" stroke="#000" stroke-width="3.0"/>
<path d="M230.5 1308.6L251.3 1298.5V1318.6999999999998Z" fill="#000"/>
<path d="M931.0 1308.6L910.2 1298.5V1318.6999999999998Z" fill="#000"/>
<line x1="955.4" y1="1309.5" x2="1096.0" y2="1309.5" stroke="#000" stroke-width="3.0"/>
<path d="M936.6 1309.5L957.4 1299.4V1319.6Z" fill="#000"/>
<path d="M1114.8 1309.5L1094.0 1299.4V1319.6Z" fill="#000"/>
<line x1="1139.0" y1="1310.3" x2="1365.4" y2="1310.3" stroke="#000" stroke-width="3.0"/>
<path d="M1120.2 1310.3L1141.0 1300.2V1320.3999999999999Z" fill="#000"/>
<path d="M1384.2 1310.3L1363.4 1300.2V1320.3999999999999Z" fill="#000"/>
<line x1="1407.8" y1="1310.4" x2="1441.2" y2="1310.4" stroke="#000" stroke-width="3.0"/>
<path d="M1389.0 1310.4L1409.8 1300.3000000000002V1320.5Z" fill="#000"/>
<path d="M1460.0 1310.4L1439.2 1300.3000000000002V1320.5Z" fill="#000"/>
<line x1="1478.3" y1="1310.4" x2="1562.2" y2="1310.4" stroke="#000" stroke-width="3.0"/>
<path d="M1459.5 1310.4L1480.3 1300.3000000000002V1320.5Z" fill="#000"/>
<path d="M1581.0 1310.4L1560.2 1300.3000000000002V1320.5Z" fill="#000"/>
<line x1="1599.4" y1="1310.2" x2="1652.1" y2="1310.2" stroke="#000" stroke-width="3.0"/>
<path d="M1580.6 1310.2L1601.4 1300.1000000000001V1320.3Z" fill="#000"/>
<path d="M1670.9 1310.2L1650.1 1300.1000000000001V1320.3Z" fill="#000"/>
<text x="377.2" y="610.6" font-size="49.5" fill="#0070e0" textLength="31.5" lengthAdjust="spacingAndGlyphs">R</text>
<text x="410.3" y="624.6" font-size="33" font-weight="normal" fill="#0070e0" stroke="#0070e0" stroke-width="0.7" textLength="31" lengthAdjust="spacingAndGlyphs">Cj</text>
<text x="372.0" y="693.4" font-size="49.5" fill="#000" textLength="31.5" lengthAdjust="spacingAndGlyphs">R</text>
<text x="404.6" y="706.6" font-size="33" font-weight="bold" fill="#000" textLength="33" lengthAdjust="spacingAndGlyphs">Aj</text>
<text x="370.0" y="772.5" font-size="49.5" fill="#ff4040" textLength="31.5" lengthAdjust="spacingAndGlyphs">R</text>
<text x="405.0" y="785.9" font-size="33" font-weight="bold" fill="#ff4040" textLength="28" lengthAdjust="spacingAndGlyphs">Bj</text>
<text x="307.0" y="922.0" font-size="49.5" fill="#9900ff" textLength="31.5" lengthAdjust="spacingAndGlyphs">R</text>
<text x="340.6" y="935.4" font-size="33" font-weight="normal" fill="#9900ff" stroke="#9900ff" stroke-width="0.7" textLength="32" lengthAdjust="spacingAndGlyphs">Uj</text>
<text x="825.0" y="1282.3" font-size="49.5" fill="#00b064" textLength="31.5" lengthAdjust="spacingAndGlyphs">R</text>
<text x="860.0" y="1294.5" font-size="33" font-weight="normal" fill="#00b064" stroke="#00b064" stroke-width="0.7" textLength="33" lengthAdjust="spacingAndGlyphs">Dj</text>
<text x="1003.2" y="1283.0" font-size="49.5" fill="#00b064" textLength="31.5" lengthAdjust="spacingAndGlyphs">R</text>
<text x="1037.5" y="1295.2" font-size="33" font-weight="normal" fill="#00b064" stroke="#00b064" stroke-width="0.7" textLength="17.5" lengthAdjust="spacingAndGlyphs">d</text>
<text x="1228.0" y="1278.0" font-size="49.5" fill="#00b064" textLength="31.5" lengthAdjust="spacingAndGlyphs">R</text>
<text x="1261.6" y="1291.0" font-size="33" font-weight="normal" fill="#00b064" stroke="#00b064" stroke-width="0.7" textLength="62" lengthAdjust="spacingAndGlyphs">AlN</text>
<text x="1400.0" y="1279.2" font-size="49.5" fill="#00b064" textLength="31.5" lengthAdjust="spacingAndGlyphs">R</text>
<text x="1433.6" y="1293.0" font-size="33" font-weight="normal" fill="#00b064" stroke="#00b064" stroke-width="0.7" textLength="13" lengthAdjust="spacingAndGlyphs">s</text>
<text x="1501.0" y="1278.0" font-size="49.5" fill="#00b064" textLength="31.5" lengthAdjust="spacingAndGlyphs">R</text>
<text x="1535.0" y="1290.8" font-size="33" font-weight="normal" fill="#00b064" stroke="#00b064" stroke-width="0.7" textLength="34" lengthAdjust="spacingAndGlyphs">Al</text>
<text x="1603.0" y="1278.0" font-size="49.5" fill="#00b064" textLength="31.5" lengthAdjust="spacingAndGlyphs">R</text>
<text x="1637.2" y="1291.4" font-size="33" font-weight="normal" fill="#00b064" stroke="#00b064" stroke-width="0.7" textLength="9.6" lengthAdjust="spacingAndGlyphs">t</text>
<text x="230.6" y="1389.6" font-size="62.5" fill="#000" text-anchor="middle">0</text>
<text x="494.6" y="1389.6" font-size="62.5" fill="#000" text-anchor="middle">20</text>
<text x="758.6" y="1389.6" font-size="62.5" fill="#000" text-anchor="middle">40</text>
<text x="1022.6" y="1389.6" font-size="62.5" fill="#000" text-anchor="middle">60</text>
<text x="1286.6" y="1389.6" font-size="62.5" fill="#000" text-anchor="middle">80</text>
<text x="1550.6" y="1389.6" font-size="62.5" fill="#000" text-anchor="middle">100</text>
<text x="1814.6" y="1389.6" font-size="62.5" fill="#000" text-anchor="middle">120</text>
<text x="131.0" y="70.0" font-size="62.5" fill="#000" text-anchor="start">10</text>
<text x="193.6" y="45.8" font-size="44" fill="#000" text-anchor="start" textLength="19.5" lengthAdjust="spacingAndGlyphs">6</text>
<text x="131.0" y="252.6" font-size="62.5" fill="#000" text-anchor="start">10</text>
<text x="193.6" y="228.4" font-size="44" fill="#000" text-anchor="start" textLength="19.5" lengthAdjust="spacingAndGlyphs">4</text>
<text x="131.0" y="435.2" font-size="62.5" fill="#000" text-anchor="start">10</text>
<text x="193.6" y="411.0" font-size="44" fill="#000" text-anchor="start" textLength="19.5" lengthAdjust="spacingAndGlyphs">2</text>
<text x="131.0" y="617.9" font-size="62.5" fill="#000" text-anchor="start">10</text>
<text x="193.6" y="593.7" font-size="44" fill="#000" text-anchor="start" textLength="19.5" lengthAdjust="spacingAndGlyphs">0</text>
<text x="110.6" y="800.5" font-size="62.5" fill="#000" text-anchor="start">10</text>
<text x="175.3" y="776.3" font-size="44" fill="#000" text-anchor="start" textLength="38.5" lengthAdjust="spacingAndGlyphs">−2</text>
<text x="110.6" y="983.1" font-size="62.5" fill="#000" text-anchor="start">10</text>
<text x="175.3" y="958.9" font-size="44" fill="#000" text-anchor="start" textLength="38.5" lengthAdjust="spacingAndGlyphs">−4</text>
<text x="110.6" y="1165.7" font-size="62.5" fill="#000" text-anchor="start">10</text>
<text x="175.3" y="1141.5" font-size="44" fill="#000" text-anchor="start" textLength="38.5" lengthAdjust="spacingAndGlyphs">−6</text>
<text x="110.6" y="1348.3" font-size="62.5" fill="#000" text-anchor="start">10</text>
<text x="175.3" y="1324.1" font-size="44" fill="#000" text-anchor="start" textLength="38.5" lengthAdjust="spacingAndGlyphs">−8</text>
<line x1="254.5" y1="95.9" x2="359" y2="95.9" stroke="#9900ff" stroke-width="6.1" stroke-linecap="round"/>
<circle cx="305.5" cy="95.6" r="4.7" fill="#9900ff"/>
<circle cx="304.2" cy="93.9" r="1.5" fill="#fff" opacity="0.6"/>
<text x="369" y="110.3" font-size="40" fill="#000" text-anchor="start" textLength="293.1" lengthAdjust="spacingAndGlyphs" font-family='"Liberation Serif","WenQuanYi Zen Hei",serif'>Unaged samples</text>
<line x1="254.5" y1="153.8" x2="359" y2="153.8" stroke="#4d4d4d" stroke-width="6.1" stroke-linecap="round"/>
<circle cx="305.5" cy="153.5" r="4.7" fill="#4d4d4d"/>
<circle cx="304.2" cy="151.8" r="1.5" fill="#fff" opacity="0.6"/>
<text x="369" y="168.2" font-size="40" fill="#000" text-anchor="start" textLength="556.2" lengthAdjust="spacingAndGlyphs" font-family='"Liberation Serif","WenQuanYi Zen Hei",serif'>A (85℃, 0 mA , natural cooling)</text>
<line x1="254.5" y1="211.8" x2="359" y2="211.8" stroke="#ff4040" stroke-width="6.1" stroke-linecap="round"/>
<circle cx="305.5" cy="211.5" r="4.7" fill="#ff4040"/>
<circle cx="304.2" cy="209.8" r="1.5" fill="#fff" opacity="0.6"/>
<text x="369" y="226.2" font-size="40" fill="#000" text-anchor="start" textLength="490.8" lengthAdjust="spacingAndGlyphs" font-family='"Liberation Serif","WenQuanYi Zen Hei",serif'>B (25℃, 80 mA , air cooling)</text>
<line x1="254.5" y1="269.7" x2="359" y2="269.7" stroke="#0070e0" stroke-width="6.1" stroke-linecap="round"/>
<circle cx="305.5" cy="269.4" r="4.7" fill="#0070e0"/>
<circle cx="304.2" cy="267.7" r="1.5" fill="#fff" opacity="0.6"/>
<text x="369" y="284.1" font-size="40" fill="#000" text-anchor="start" textLength="573.8" lengthAdjust="spacingAndGlyphs" font-family='"Liberation Serif","WenQuanYi Zen Hei",serif'>C (25℃, 80 mA , natural cooling)</text>
<line x1="254.5" y1="327.6" x2="359" y2="327.6" stroke="#00b064" stroke-width="6.1" stroke-linecap="round"/>
<circle cx="305.5" cy="327.3" r="4.7" fill="#00b064"/>
<circle cx="304.2" cy="325.6" r="1.5" fill="#fff" opacity="0.6"/>
<text x="369" y="342.0" font-size="40" fill="#000" text-anchor="start" textLength="578.3" lengthAdjust="spacingAndGlyphs" font-family='"Liberation Serif","WenQuanYi Zen Hei",serif'>D (85℃, 80 mA , natural cooling)</text>
<text x="907" y="1469.6" font-size="67">R<tspan font-size="47" dy="17.6">th</tspan><tspan dy="-17.6"> </tspan><tspan font-size="62" dy="-5.8">(</tspan><tspan dy="5.8">K/W</tspan><tspan font-size="62" dy="-5.8">)</tspan></text>
<text transform="translate(82.9,867) rotate(-90)" font-size="67" textLength="322" lengthAdjust="spacing">K <tspan font-size="62" dy="-5.8">(</tspan><tspan dy="5.8">W</tspan><tspan font-size="45" dy="-27">2</tspan><tspan dy="27">s/K</tspan><tspan font-size="45" dy="-27">2</tspan><tspan font-size="62" dy="21.2">)</tspan></text>
</svg>
</body></html>
